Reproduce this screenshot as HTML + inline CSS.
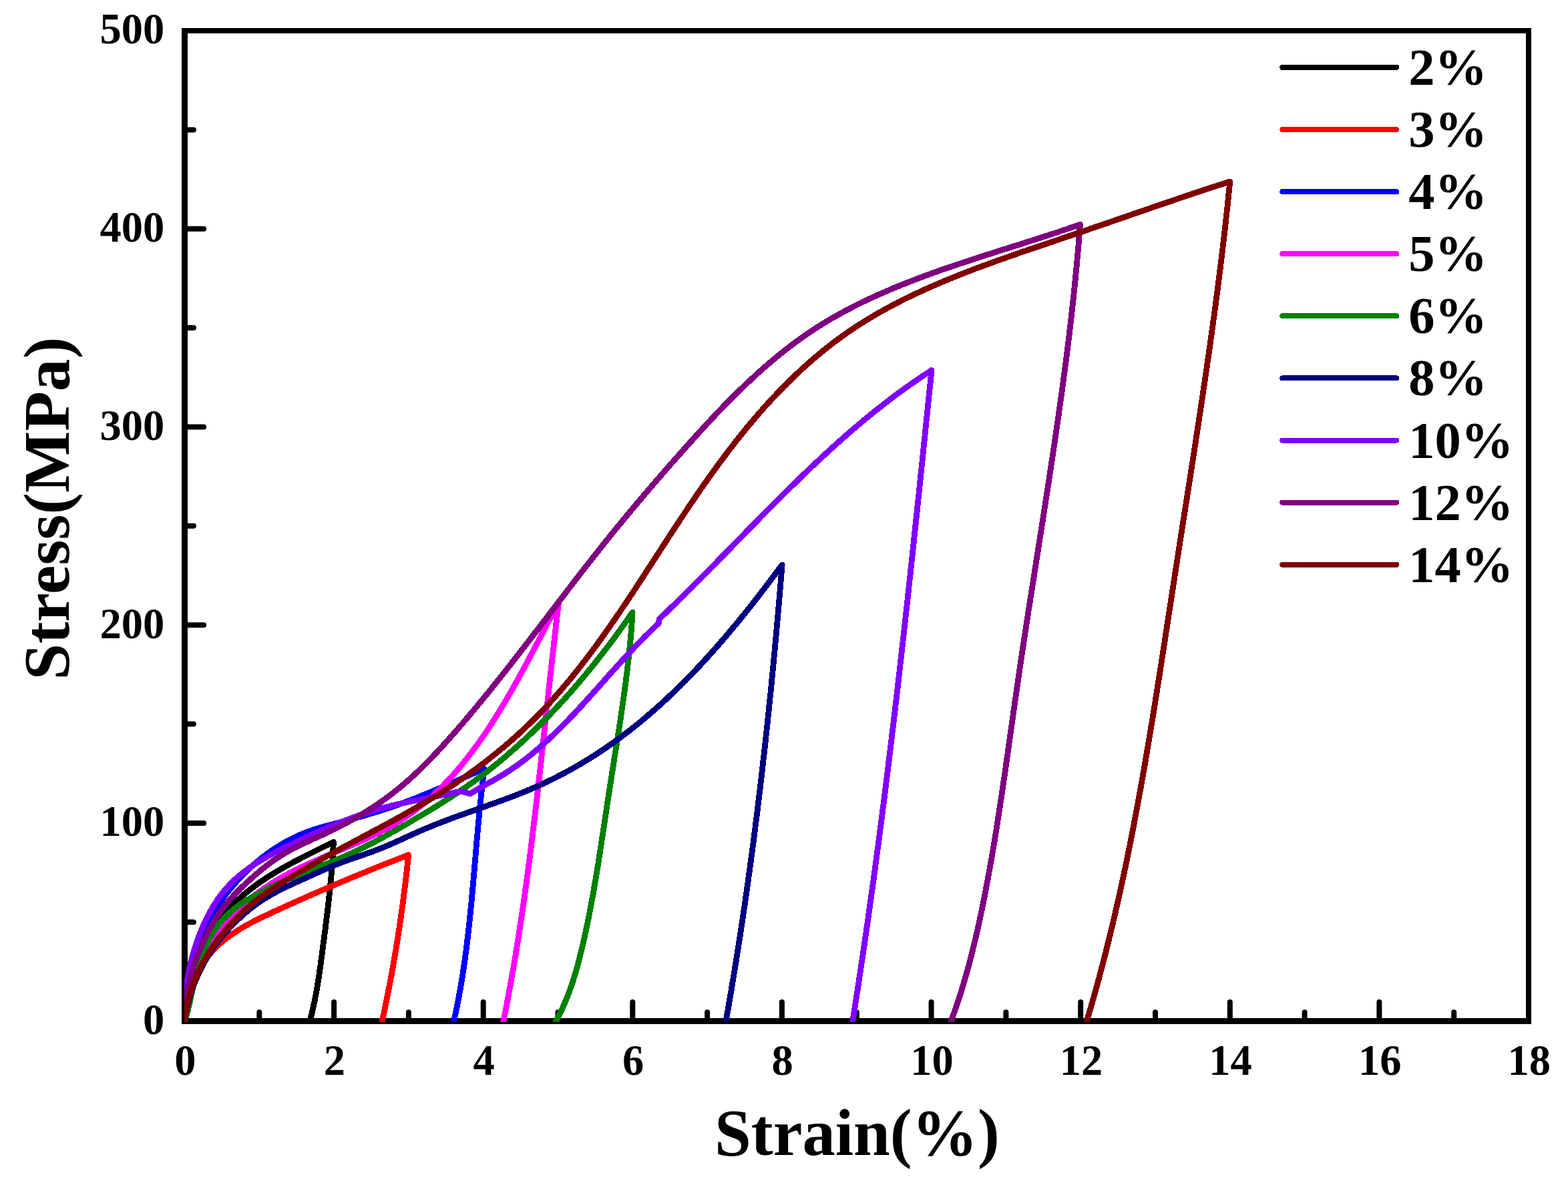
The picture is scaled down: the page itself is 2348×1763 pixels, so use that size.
<!DOCTYPE html>
<html lang="en"><head><meta charset="utf-8"><title>Stress-Strain curves</title>
<style>html,body{margin:0;padding:0;background:#fff;}body{width:2348px;height:1763px;overflow:hidden;}svg{display:block;}text{font-family:"Liberation Serif","Times New Roman",serif;font-weight:bold;fill:#000;}.tk{font-size:64.5px;}.lg{font-size:78.5px;}.ti{font-size:98.5px;}.c{fill:none;stroke-width:8.8;stroke-linejoin:round;stroke-linecap:round;shape-rendering:crispEdges;}.ax{fill:none;stroke:#000;stroke-linecap:round;stroke-linejoin:round;}</style></head><body>
<svg width="2348" height="1763" viewBox="0 0 2348 1763">
<rect width="2348" height="1763" fill="#fff"/>
<g class="ax" stroke-width="8">
<path d="M388.3,1529.6V1516.2M500.1,1529.6V1501.0M611.9,1529.6V1516.2M723.7,1529.6V1501.0M835.5,1529.6V1516.2M947.3,1529.6V1501.0M1059.1,1529.6V1516.2M1170.9,1529.6V1501.0M1282.8,1529.6V1516.2M1394.6,1529.6V1501.0M1506.4,1529.6V1516.2M1618.2,1529.6V1501.0M1730.0,1529.6V1516.2M1841.8,1529.6V1501.0M1953.6,1529.6V1516.2M2065.4,1529.6V1501.0M2177.2,1529.6V1516.2M276.5,1381.2H289.9M276.5,1232.9H305.1M276.5,1084.5H289.9M276.5,936.2H305.1M276.5,787.8H289.9M276.5,639.4H305.1M276.5,491.1H289.9M276.5,342.7H305.1M276.5,194.4H289.9"/>
</g>
<g fill="#000" shape-rendering="crispEdges">
<rect x="272" y="42" width="9" height="1492"/>
<rect x="2285" y="42" width="8" height="1492"/>
<rect x="272" y="42" width="2021" height="8"/>
<rect x="272" y="1525" width="2021" height="9"/>
</g>
<defs><clipPath id="plot"><rect x="276.0" y="46.0" width="2013.0" height="1484.8"/></clipPath></defs>
<g class="c" clip-path="url(#plot)">
<path stroke="#000000" d="M276.5,1530.0 L276.9,1526.9 L277.3,1523.8 L277.7,1520.8 L278.1,1517.7 L278.5,1514.6 L278.9,1511.6 L279.4,1508.5 L279.8,1505.5 L280.3,1502.4 L280.8,1499.4 L281.3,1496.4 L281.8,1493.4 L282.3,1490.4 L282.9,1487.4 L283.5,1484.4 L284.1,1481.4 L284.7,1478.4 L285.4,1475.5 L286.0,1472.5 L286.7,1469.6 L287.5,1466.6 L288.2,1463.7 L289.0,1460.8 L289.8,1457.9 L290.6,1455.0 L291.5,1452.2 L292.4,1449.3 L293.3,1446.4 L294.2,1443.6 L295.2,1440.8 L296.3,1438.0 L297.3,1435.2 L298.4,1432.4 L299.5,1429.7 L300.7,1426.9 L301.9,1424.2 L303.1,1421.5 L304.4,1418.8 L305.7,1416.1 L307.0,1413.4 L308.4,1410.8 L309.8,1408.1 L311.2,1405.5 L312.7,1402.9 L314.2,1400.4 L315.7,1397.8 L317.2,1395.3 L318.8,1392.7 L320.5,1390.2 L322.1,1387.8 L323.8,1385.3 L325.5,1382.9 L327.3,1380.5 L329.1,1378.1 L330.9,1375.7 L332.7,1373.3 L334.6,1371.0 L336.5,1368.7 L338.4,1366.4 L340.4,1364.2 L342.4,1361.9 L344.4,1359.7 L346.5,1357.5 L348.6,1355.4 L350.7,1353.2 L352.8,1351.1 L355.0,1349.0 L357.2,1347.0 L359.4,1344.9 L361.7,1342.9 L364.0,1340.9 L366.3,1339.0 L368.6,1337.0 L371.0,1335.1 L373.4,1333.2 L375.8,1331.4 L378.2,1329.5 L380.6,1327.7 L383.1,1325.9 L385.6,1324.1 L388.1,1322.3 L390.6,1320.6 L393.2,1318.8 L395.7,1317.1 L398.3,1315.5 L400.9,1313.8 L403.5,1312.1 L406.1,1310.5 L408.7,1308.9 L411.3,1307.3 L414.0,1305.7 L416.6,1304.1 L419.3,1302.6 L422.0,1301.0 L424.6,1299.5 L427.3,1298.0 L430.0,1296.5 L432.7,1295.0 L435.4,1293.6 L438.1,1292.1 L440.8,1290.7 L443.5,1289.2 L446.2,1287.8 L448.9,1286.4 L451.6,1285.0 L454.3,1283.6 L457.0,1282.2 L459.7,1280.9 L462.4,1279.5 L465.1,1278.2 L467.8,1276.8 L470.5,1275.5 L473.2,1274.2 L475.9,1272.8 L478.5,1271.5 L481.2,1270.2 L483.8,1268.9 L486.4,1267.6 L489.1,1266.3 L491.7,1265.0 L494.3,1263.8 L496.8,1262.5 L499.4,1261.2 L499.3,1264.2 L499.1,1267.2 L499.0,1270.2 L498.8,1273.2 L498.7,1276.2 L498.5,1279.2 L498.3,1282.3 L498.1,1285.3 L497.9,1288.3 L497.7,1291.3 L497.5,1294.3 L497.2,1297.3 L497.0,1300.3 L496.7,1303.3 L496.5,1306.3 L496.2,1309.4 L496.0,1312.4 L495.7,1315.4 L495.4,1318.4 L495.1,1321.4 L494.8,1324.4 L494.5,1327.4 L494.2,1330.5 L493.9,1333.5 L493.6,1336.5 L493.3,1339.5 L492.9,1342.5 L492.6,1345.5 L492.3,1348.5 L491.9,1351.6 L491.6,1354.6 L491.2,1357.6 L490.9,1360.6 L490.5,1363.6 L490.2,1366.6 L489.8,1369.6 L489.4,1372.6 L489.0,1375.7 L488.7,1378.7 L488.3,1381.7 L487.9,1384.7 L487.5,1387.7 L487.2,1390.7 L486.8,1393.7 L486.4,1396.7 L486.0,1399.7 L485.6,1402.7 L485.2,1405.7 L484.8,1408.7 L484.4,1411.7 L484.0,1414.7 L483.6,1417.7 L483.3,1420.7 L482.9,1423.7 L482.5,1426.7 L482.1,1429.7 L481.7,1432.7 L481.3,1435.6 L480.9,1438.6 L480.5,1441.6 L480.1,1444.6 L479.7,1447.6 L479.2,1450.6 L478.8,1453.5 L478.4,1456.5 L478.0,1459.5 L477.5,1462.5 L477.1,1465.4 L476.6,1468.4 L476.1,1471.4 L475.7,1474.3 L475.2,1477.3 L474.7,1480.2 L474.1,1483.2 L473.6,1486.2 L473.1,1489.1 L472.5,1492.1 L471.9,1495.0 L471.4,1497.9 L470.8,1500.9 L470.1,1503.8 L469.5,1506.8 L468.9,1509.7 L468.2,1512.6 L467.5,1515.6 L466.8,1518.5 L466.1,1521.4 L465.3,1524.3 L464.5,1527.3 L463.8,1530.2 L462.9,1533.1 L462.1,1536.0"/>
<path stroke="#FF0000" d="M276.5,1530.0 L276.9,1526.9 L277.2,1523.9 L277.6,1520.8 L278.1,1517.8 L278.5,1514.7 L279.0,1511.7 L279.6,1508.6 L280.1,1505.6 L280.7,1502.6 L281.4,1499.6 L282.0,1496.6 L282.7,1493.6 L283.5,1490.7 L284.3,1487.8 L285.1,1484.8 L286.0,1481.9 L286.9,1479.1 L287.9,1476.2 L288.9,1473.4 L289.9,1470.6 L291.0,1467.8 L292.2,1465.1 L293.4,1462.3 L294.6,1459.6 L295.9,1457.0 L297.3,1454.3 L298.6,1451.7 L300.1,1449.2 L301.6,1446.6 L303.1,1444.1 L304.7,1441.6 L306.4,1439.2 L308.1,1436.8 L309.8,1434.4 L311.6,1432.1 L313.5,1429.8 L315.4,1427.6 L317.3,1425.3 L319.3,1423.2 L321.4,1421.0 L323.4,1418.9 L325.6,1416.9 L327.7,1414.9 L329.9,1412.9 L332.2,1411.0 L334.4,1409.1 L336.7,1407.2 L339.1,1405.4 L341.5,1403.6 L343.9,1401.8 L346.3,1400.1 L348.8,1398.4 L351.3,1396.8 L353.8,1395.1 L356.3,1393.5 L358.9,1391.9 L361.5,1390.4 L364.1,1388.8 L366.7,1387.3 L369.4,1385.8 L372.0,1384.4 L374.7,1382.9 L377.4,1381.5 L380.1,1380.1 L382.8,1378.7 L385.5,1377.3 L388.3,1376.0 L391.0,1374.6 L393.8,1373.3 L396.5,1372.0 L399.3,1370.7 L402.1,1369.4 L404.8,1368.1 L407.6,1366.8 L410.3,1365.5 L413.1,1364.2 L415.9,1363.0 L418.6,1361.7 L421.4,1360.5 L424.1,1359.2 L426.8,1358.0 L429.6,1356.7 L432.3,1355.5 L435.0,1354.3 L437.8,1353.1 L440.5,1351.8 L443.2,1350.6 L445.9,1349.4 L448.6,1348.2 L451.4,1347.0 L454.1,1345.8 L456.8,1344.6 L459.5,1343.4 L462.2,1342.2 L464.9,1341.0 L467.6,1339.8 L470.3,1338.6 L473.0,1337.5 L475.7,1336.3 L478.4,1335.1 L481.1,1333.9 L483.8,1332.8 L486.5,1331.6 L489.2,1330.4 L491.9,1329.3 L494.6,1328.1 L497.3,1327.0 L500.0,1325.8 L502.7,1324.7 L505.5,1323.5 L508.2,1322.4 L510.9,1321.2 L513.6,1320.1 L516.3,1318.9 L519.0,1317.8 L521.8,1316.7 L524.5,1315.5 L527.2,1314.4 L530.0,1313.2 L532.7,1312.1 L535.4,1311.0 L538.2,1309.9 L540.9,1308.7 L543.7,1307.6 L546.4,1306.5 L549.2,1305.3 L552.0,1304.2 L554.8,1303.1 L557.5,1302.0 L560.3,1300.8 L563.1,1299.7 L565.9,1298.6 L568.7,1297.5 L571.5,1296.3 L574.3,1295.2 L577.2,1294.1 L580.0,1293.0 L582.8,1291.9 L585.7,1290.7 L588.5,1289.6 L591.4,1288.5 L594.2,1287.4 L597.1,1286.2 L600.0,1285.1 L602.9,1284.0 L605.8,1282.9 L608.7,1281.7 L611.6,1280.6 L611.3,1283.6 L611.0,1286.6 L610.7,1289.6 L610.4,1292.6 L610.1,1295.6 L609.7,1298.6 L609.4,1301.5 L609.1,1304.5 L608.7,1307.5 L608.4,1310.5 L608.1,1313.5 L607.7,1316.5 L607.4,1319.5 L607.0,1322.5 L606.7,1325.5 L606.3,1328.4 L605.9,1331.4 L605.6,1334.4 L605.2,1337.4 L604.8,1340.4 L604.4,1343.4 L604.0,1346.4 L603.6,1349.3 L603.3,1352.3 L602.9,1355.3 L602.5,1358.3 L602.0,1361.3 L601.6,1364.3 L601.2,1367.2 L600.8,1370.2 L600.4,1373.2 L600.0,1376.2 L599.5,1379.2 L599.1,1382.1 L598.6,1385.1 L598.2,1388.1 L597.8,1391.1 L597.3,1394.0 L596.8,1397.0 L596.4,1400.0 L595.9,1403.0 L595.5,1405.9 L595.0,1408.9 L594.5,1411.9 L594.0,1414.9 L593.5,1417.8 L593.1,1420.8 L592.6,1423.8 L592.1,1426.7 L591.6,1429.7 L591.1,1432.7 L590.6,1435.6 L590.0,1438.6 L589.5,1441.6 L589.0,1444.5 L588.5,1447.5 L588.0,1450.5 L587.4,1453.4 L586.9,1456.4 L586.3,1459.3 L585.8,1462.3 L585.2,1465.3 L584.7,1468.2 L584.1,1471.2 L583.6,1474.1 L583.0,1477.1 L582.4,1480.0 L581.9,1483.0 L581.3,1485.9 L580.7,1488.9 L580.1,1491.8 L579.5,1494.8 L578.9,1497.7 L578.3,1500.7 L577.7,1503.6 L577.1,1506.6 L576.5,1509.5 L575.9,1512.5 L575.3,1515.4 L574.6,1518.4 L574.0,1521.3 L573.4,1524.2 L572.7,1527.2 L572.1,1530.1 L571.4,1533.1 L570.8,1536.0"/>
<path stroke="#0000FF" d="M276.5,1530.0 L276.4,1527.0 L276.3,1523.9 L276.3,1520.9 L276.3,1517.9 L276.3,1514.8 L276.4,1511.8 L276.5,1508.8 L276.6,1505.8 L276.8,1502.8 L277.0,1499.7 L277.2,1496.7 L277.5,1493.7 L277.8,1490.8 L278.1,1487.8 L278.4,1484.8 L278.8,1481.8 L279.2,1478.8 L279.7,1475.9 L280.1,1472.9 L280.6,1470.0 L281.2,1467.0 L281.7,1464.1 L282.3,1461.1 L283.0,1458.2 L283.6,1455.3 L284.3,1452.4 L285.0,1449.5 L285.8,1446.6 L286.5,1443.7 L287.3,1440.8 L288.2,1438.0 L289.0,1435.1 L289.9,1432.2 L290.8,1429.4 L291.8,1426.6 L292.8,1423.7 L293.8,1420.9 L294.8,1418.1 L295.9,1415.3 L297.0,1412.6 L298.1,1409.8 L299.2,1407.0 L300.4,1404.3 L301.6,1401.5 L302.8,1398.8 L304.1,1396.1 L305.3,1393.4 L306.7,1390.7 L308.0,1388.0 L309.3,1385.4 L310.7,1382.7 L312.1,1380.1 L313.6,1377.5 L315.1,1374.9 L316.5,1372.3 L318.1,1369.7 L319.6,1367.1 L321.2,1364.5 L322.8,1362.0 L324.4,1359.5 L326.0,1357.0 L327.7,1354.5 L329.4,1352.0 L331.1,1349.5 L332.9,1347.1 L334.6,1344.6 L336.4,1342.2 L338.2,1339.8 L340.1,1337.4 L342.0,1335.1 L343.8,1332.7 L345.8,1330.4 L347.7,1328.1 L349.7,1325.8 L351.6,1323.5 L353.6,1321.2 L355.7,1319.0 L357.7,1316.8 L359.8,1314.6 L361.9,1312.4 L364.0,1310.2 L366.2,1308.0 L368.3,1305.9 L370.5,1303.8 L372.7,1301.7 L375.0,1299.7 L377.2,1297.6 L379.5,1295.6 L381.8,1293.6 L384.1,1291.6 L386.4,1289.7 L388.8,1287.7 L391.1,1285.8 L393.5,1283.9 L395.9,1282.1 L398.3,1280.3 L400.8,1278.5 L403.2,1276.7 L405.7,1275.0 L408.2,1273.3 L410.7,1271.6 L413.2,1269.9 L415.8,1268.3 L418.3,1266.7 L420.9,1265.1 L423.5,1263.6 L426.0,1262.1 L428.7,1260.6 L431.3,1259.2 L433.9,1257.8 L436.6,1256.5 L439.2,1255.1 L441.9,1253.8 L444.6,1252.6 L447.3,1251.4 L450.0,1250.2 L452.7,1249.0 L455.4,1247.9 L458.1,1246.8 L460.9,1245.8 L463.6,1244.8 L466.4,1243.9 L469.2,1242.9 L472.0,1242.0 L474.8,1241.2 L477.6,1240.3 L480.4,1239.5 L483.2,1238.7 L486.0,1237.9 L488.8,1237.1 L491.6,1236.4 L494.5,1235.6 L497.3,1234.9 L500.2,1234.1 L503.0,1233.4 L505.9,1232.6 L508.7,1231.8 L511.6,1231.1 L514.5,1230.3 L517.3,1229.5 L520.2,1228.8 L523.1,1228.0 L526.0,1227.2 L528.8,1226.4 L531.7,1225.6 L534.6,1224.8 L537.5,1223.9 L540.4,1223.1 L543.3,1222.3 L546.2,1221.4 L549.0,1220.6 L551.9,1219.7 L554.8,1218.8 L557.7,1218.0 L560.6,1217.1 L563.5,1216.2 L566.4,1215.3 L569.2,1214.4 L572.1,1213.5 L575.0,1212.5 L577.9,1211.6 L580.8,1210.6 L583.6,1209.7 L586.5,1208.7 L589.4,1207.7 L592.2,1206.7 L595.1,1205.7 L597.9,1204.7 L600.8,1203.7 L603.6,1202.6 L606.5,1201.6 L609.3,1200.5 L612.1,1199.5 L614.9,1198.4 L617.8,1197.3 L620.6,1196.2 L623.4,1195.1 L626.2,1194.0 L629.0,1192.9 L631.8,1191.7 L634.6,1190.6 L637.4,1189.4 L640.2,1188.3 L642.9,1187.1 L645.7,1186.0 L648.5,1184.8 L651.3,1183.6 L654.0,1182.4 L656.8,1181.3 L659.6,1180.1 L662.3,1178.9 L665.1,1177.7 L667.8,1176.5 L670.6,1175.3 L673.4,1174.1 L676.1,1172.9 L678.8,1171.7 L681.6,1170.5 L684.3,1169.3 L687.1,1168.1 L689.8,1166.9 L692.5,1165.7 L695.3,1164.5 L698.0,1163.3 L700.7,1162.1 L703.4,1160.9 L706.2,1159.7 L708.9,1158.5 L711.6,1157.4 L714.3,1156.2 L717.1,1155.0 L719.8,1153.8 L722.5,1152.7 L725.2,1151.5 L724.8,1154.5 L724.4,1157.5 L724.1,1160.4 L723.7,1163.4 L723.3,1166.4 L723.0,1169.4 L722.6,1172.4 L722.3,1175.4 L721.9,1178.3 L721.6,1181.3 L721.3,1184.3 L720.9,1187.3 L720.6,1190.3 L720.3,1193.3 L720.0,1196.3 L719.7,1199.3 L719.4,1202.2 L719.0,1205.2 L718.7,1208.2 L718.4,1211.2 L718.1,1214.2 L717.9,1217.2 L717.6,1220.2 L717.3,1223.2 L717.0,1226.2 L716.7,1229.2 L716.4,1232.1 L716.2,1235.1 L715.9,1238.1 L715.6,1241.1 L715.3,1244.1 L715.1,1247.1 L714.8,1250.1 L714.5,1253.1 L714.3,1256.1 L714.0,1259.1 L713.8,1262.1 L713.5,1265.1 L713.2,1268.1 L713.0,1271.1 L712.7,1274.0 L712.5,1277.0 L712.2,1280.0 L712.0,1283.0 L711.7,1286.0 L711.4,1289.0 L711.2,1292.0 L710.9,1295.0 L710.7,1298.0 L710.4,1301.0 L710.2,1304.0 L709.9,1307.0 L709.6,1310.0 L709.4,1313.0 L709.1,1316.0 L708.9,1318.9 L708.6,1321.9 L708.3,1324.9 L708.1,1327.9 L707.8,1330.9 L707.5,1333.9 L707.3,1336.9 L707.0,1339.9 L706.7,1342.9 L706.4,1345.9 L706.2,1348.9 L705.9,1351.8 L705.6,1354.8 L705.3,1357.8 L705.0,1360.8 L704.7,1363.8 L704.4,1366.8 L704.1,1369.8 L703.8,1372.8 L703.5,1375.8 L703.2,1378.7 L702.9,1381.7 L702.6,1384.7 L702.2,1387.7 L701.9,1390.7 L701.6,1393.7 L701.2,1396.6 L700.9,1399.6 L700.5,1402.6 L700.2,1405.6 L699.8,1408.6 L699.5,1411.6 L699.1,1414.5 L698.7,1417.5 L698.4,1420.5 L698.0,1423.5 L697.6,1426.4 L697.2,1429.4 L696.8,1432.4 L696.4,1435.4 L696.0,1438.3 L695.6,1441.3 L695.1,1444.3 L694.7,1447.3 L694.3,1450.2 L693.8,1453.2 L693.4,1456.2 L692.9,1459.1 L692.5,1462.1 L692.0,1465.1 L691.5,1468.0 L691.0,1471.0 L690.5,1474.0 L690.0,1476.9 L689.5,1479.9 L689.0,1482.9 L688.5,1485.8 L687.9,1488.8 L687.4,1491.7 L686.8,1494.7 L686.3,1497.7 L685.7,1500.6 L685.1,1503.6 L684.5,1506.5 L683.9,1509.5 L683.3,1512.4 L682.7,1515.4 L682.1,1518.3 L681.4,1521.3 L680.8,1524.2 L680.1,1527.2 L679.5,1530.1 L678.8,1533.1 L678.1,1536.0"/>
<path stroke="#FF00FF" d="M276.5,1530.0 L276.7,1526.8 L277.0,1523.7 L277.2,1520.5 L277.6,1517.4 L277.9,1514.3 L278.3,1511.2 L278.8,1508.1 L279.3,1505.1 L279.8,1502.0 L280.4,1499.0 L281.0,1496.0 L281.6,1493.0 L282.3,1490.0 L283.0,1487.0 L283.7,1484.1 L284.5,1481.1 L285.3,1478.2 L286.2,1475.3 L287.0,1472.4 L288.0,1469.5 L288.9,1466.7 L289.9,1463.9 L290.9,1461.0 L292.0,1458.2 L293.1,1455.4 L294.2,1452.7 L295.4,1449.9 L296.6,1447.2 L297.8,1444.4 L299.0,1441.7 L300.3,1439.1 L301.6,1436.4 L303.0,1433.7 L304.4,1431.1 L305.8,1428.5 L307.2,1425.9 L308.7,1423.3 L310.2,1420.7 L311.7,1418.2 L313.2,1415.7 L314.8,1413.2 L316.4,1410.7 L318.1,1408.2 L319.8,1405.7 L321.4,1403.3 L323.2,1400.9 L324.9,1398.5 L326.7,1396.1 L328.5,1393.8 L330.3,1391.4 L332.2,1389.1 L334.1,1386.8 L336.0,1384.5 L337.9,1382.3 L339.8,1380.0 L341.8,1377.8 L343.8,1375.6 L345.8,1373.4 L347.9,1371.2 L350.0,1369.1 L352.0,1367.0 L354.2,1364.9 L356.3,1362.8 L358.5,1360.7 L360.6,1358.7 L362.8,1356.7 L365.1,1354.7 L367.3,1352.7 L369.6,1350.7 L371.8,1348.8 L374.1,1346.9 L376.5,1345.0 L378.8,1343.1 L381.2,1341.3 L383.5,1339.4 L385.9,1337.6 L388.3,1335.8 L390.8,1334.1 L393.2,1332.3 L395.7,1330.6 L398.2,1328.9 L400.7,1327.2 L403.2,1325.6 L405.7,1323.9 L408.2,1322.3 L410.8,1320.7 L413.4,1319.2 L416.0,1317.6 L418.6,1316.1 L421.2,1314.6 L423.8,1313.1 L426.4,1311.7 L429.1,1310.2 L431.8,1308.8 L434.4,1307.4 L437.1,1306.0 L439.8,1304.6 L442.5,1303.3 L445.2,1301.9 L447.9,1300.6 L450.7,1299.3 L453.4,1297.9 L456.2,1296.7 L458.9,1295.4 L461.7,1294.1 L464.4,1292.8 L467.2,1291.6 L470.0,1290.3 L472.8,1289.1 L475.6,1287.9 L478.4,1286.7 L481.1,1285.4 L483.9,1284.2 L486.7,1283.0 L489.5,1281.8 L492.3,1280.6 L495.1,1279.4 L498.0,1278.3 L500.8,1277.1 L503.6,1275.9 L506.4,1274.7 L509.2,1273.5 L512.0,1272.3 L514.8,1271.1 L517.6,1269.9 L520.4,1268.7 L523.2,1267.5 L525.9,1266.3 L528.7,1265.1 L531.5,1263.9 L534.3,1262.7 L537.0,1261.5 L539.8,1260.2 L542.6,1259.0 L545.3,1257.8 L548.1,1256.5 L550.8,1255.2 L553.5,1253.9 L556.2,1252.7 L558.9,1251.4 L561.6,1250.0 L564.3,1248.7 L567.0,1247.4 L569.7,1246.0 L572.3,1244.6 L575.0,1243.3 L577.6,1241.9 L580.2,1240.4 L582.8,1239.0 L585.4,1237.5 L588.0,1236.1 L590.5,1234.6 L593.1,1233.0 L595.6,1231.5 L598.1,1230.0 L600.6,1228.4 L603.1,1226.8 L605.6,1225.1 L608.0,1223.5 L610.5,1221.8 L612.9,1220.1 L615.3,1218.4 L617.7,1216.7 L620.0,1214.9 L622.4,1213.2 L624.7,1211.4 L627.1,1209.6 L629.4,1207.7 L631.7,1205.9 L633.9,1204.0 L636.2,1202.1 L638.5,1200.2 L640.7,1198.3 L642.9,1196.3 L645.1,1194.4 L647.3,1192.4 L649.5,1190.4 L651.7,1188.4 L653.8,1186.4 L655.9,1184.3 L658.1,1182.2 L660.2,1180.1 L662.3,1178.0 L664.4,1175.9 L666.4,1173.8 L668.5,1171.7 L670.5,1169.5 L672.6,1167.3 L674.6,1165.1 L676.6,1162.9 L678.6,1160.7 L680.6,1158.5 L682.5,1156.2 L684.5,1153.9 L686.4,1151.7 L688.4,1149.4 L690.3,1147.1 L692.2,1144.7 L694.1,1142.4 L696.0,1140.1 L697.9,1137.7 L699.7,1135.4 L701.6,1133.0 L703.4,1130.6 L705.3,1128.2 L707.1,1125.8 L708.9,1123.3 L710.7,1120.9 L712.5,1118.5 L714.3,1116.0 L716.1,1113.6 L717.8,1111.1 L719.6,1108.6 L721.3,1106.1 L723.0,1103.6 L724.8,1101.1 L726.5,1098.6 L728.2,1096.0 L729.9,1093.5 L731.6,1091.0 L733.2,1088.4 L734.9,1085.9 L736.6,1083.3 L738.2,1080.7 L739.9,1078.1 L741.5,1075.6 L743.1,1073.0 L744.7,1070.4 L746.3,1067.8 L747.9,1065.1 L749.5,1062.5 L751.1,1059.9 L752.7,1057.3 L754.3,1054.7 L755.8,1052.0 L757.4,1049.4 L758.9,1046.7 L760.5,1044.1 L762.0,1041.4 L763.6,1038.8 L765.1,1036.1 L766.6,1033.5 L768.1,1030.8 L769.6,1028.1 L771.1,1025.5 L772.6,1022.8 L774.1,1020.1 L775.6,1017.5 L777.0,1014.8 L778.5,1012.1 L780.0,1009.4 L781.4,1006.8 L782.9,1004.1 L784.3,1001.4 L785.8,998.7 L787.2,996.1 L788.6,993.4 L790.1,990.7 L791.5,988.0 L792.9,985.4 L794.3,982.7 L795.7,980.0 L797.1,977.4 L798.5,974.7 L799.9,972.0 L801.3,969.4 L802.7,966.7 L804.1,964.0 L805.5,961.4 L806.9,958.7 L808.3,956.1 L809.6,953.5 L811.0,950.8 L812.4,948.2 L813.7,945.6 L815.1,942.9 L816.5,940.3 L817.8,937.7 L819.2,935.1 L820.5,932.5 L821.9,929.9 L823.3,927.3 L824.6,924.7 L826.0,922.1 L827.3,919.6 L828.6,917.0 L830.0,914.5 L831.3,911.9 L832.7,909.4 L834.0,906.8 L835.4,904.3 L836.7,901.8 L836.3,904.8 L836.0,907.8 L835.6,910.7 L835.3,913.7 L834.9,916.7 L834.6,919.7 L834.2,922.7 L833.9,925.7 L833.5,928.6 L833.2,931.6 L832.8,934.6 L832.5,937.6 L832.1,940.6 L831.8,943.6 L831.5,946.5 L831.1,949.5 L830.8,952.5 L830.4,955.5 L830.1,958.5 L829.8,961.5 L829.4,964.5 L829.1,967.4 L828.8,970.4 L828.4,973.4 L828.1,976.4 L827.8,979.4 L827.4,982.4 L827.1,985.3 L826.8,988.3 L826.4,991.3 L826.1,994.3 L825.8,997.3 L825.4,1000.3 L825.1,1003.3 L824.8,1006.3 L824.5,1009.2 L824.1,1012.2 L823.8,1015.2 L823.5,1018.2 L823.1,1021.2 L822.8,1024.2 L822.5,1027.2 L822.2,1030.2 L821.8,1033.1 L821.5,1036.1 L821.2,1039.1 L820.9,1042.1 L820.6,1045.1 L820.2,1048.1 L819.9,1051.1 L819.6,1054.1 L819.3,1057.0 L818.9,1060.0 L818.6,1063.0 L818.3,1066.0 L818.0,1069.0 L817.6,1072.0 L817.3,1075.0 L817.0,1078.0 L816.7,1080.9 L816.4,1083.9 L816.0,1086.9 L815.7,1089.9 L815.4,1092.9 L815.1,1095.9 L814.7,1098.9 L814.4,1101.9 L814.1,1104.9 L813.8,1107.8 L813.4,1110.8 L813.1,1113.8 L812.8,1116.8 L812.5,1119.8 L812.1,1122.8 L811.8,1125.8 L811.5,1128.8 L811.1,1131.7 L810.8,1134.7 L810.5,1137.7 L810.2,1140.7 L809.8,1143.7 L809.5,1146.7 L809.2,1149.7 L808.8,1152.7 L808.5,1155.6 L808.2,1158.6 L807.8,1161.6 L807.5,1164.6 L807.2,1167.6 L806.8,1170.6 L806.5,1173.6 L806.2,1176.5 L805.8,1179.5 L805.5,1182.5 L805.1,1185.5 L804.8,1188.5 L804.5,1191.5 L804.1,1194.5 L803.8,1197.5 L803.4,1200.4 L803.1,1203.4 L802.7,1206.4 L802.4,1209.4 L802.0,1212.4 L801.7,1215.4 L801.3,1218.3 L801.0,1221.3 L800.6,1224.3 L800.3,1227.3 L799.9,1230.3 L799.6,1233.3 L799.2,1236.2 L798.8,1239.2 L798.5,1242.2 L798.1,1245.2 L797.8,1248.2 L797.4,1251.2 L797.0,1254.1 L796.7,1257.1 L796.3,1260.1 L795.9,1263.1 L795.5,1266.1 L795.2,1269.1 L794.8,1272.0 L794.4,1275.0 L794.0,1278.0 L793.7,1281.0 L793.3,1284.0 L792.9,1286.9 L792.5,1289.9 L792.1,1292.9 L791.7,1295.9 L791.4,1298.9 L791.0,1301.8 L790.6,1304.8 L790.2,1307.8 L789.8,1310.8 L789.4,1313.7 L789.0,1316.7 L788.6,1319.7 L788.2,1322.7 L787.8,1325.7 L787.4,1328.6 L786.9,1331.6 L786.5,1334.6 L786.1,1337.6 L785.7,1340.5 L785.3,1343.5 L784.9,1346.5 L784.4,1349.5 L784.0,1352.4 L783.6,1355.4 L783.2,1358.4 L782.7,1361.3 L782.3,1364.3 L781.9,1367.3 L781.4,1370.3 L781.0,1373.2 L780.5,1376.2 L780.1,1379.2 L779.6,1382.1 L779.2,1385.1 L778.7,1388.1 L778.3,1391.1 L777.8,1394.0 L777.4,1397.0 L776.9,1400.0 L776.5,1402.9 L776.0,1405.9 L775.5,1408.9 L775.0,1411.8 L774.6,1414.8 L774.1,1417.8 L773.6,1420.7 L773.1,1423.7 L772.6,1426.6 L772.2,1429.6 L771.7,1432.6 L771.2,1435.5 L770.7,1438.5 L770.2,1441.5 L769.7,1444.4 L769.2,1447.4 L768.7,1450.3 L768.2,1453.3 L767.6,1456.3 L767.1,1459.2 L766.6,1462.2 L766.1,1465.1 L765.6,1468.1 L765.0,1471.1 L764.5,1474.0 L764.0,1477.0 L763.4,1479.9 L762.9,1482.9 L762.3,1485.8 L761.8,1488.8 L761.2,1491.7 L760.7,1494.7 L760.1,1497.7 L759.6,1500.6 L759.0,1503.6 L758.4,1506.5 L757.9,1509.5 L757.3,1512.4 L756.7,1515.4 L756.2,1518.3 L755.6,1521.3 L755.0,1524.2 L754.4,1527.2 L753.8,1530.1 L753.2,1533.1 L752.6,1536.0"/>
<path stroke="#008000" d="M276.5,1530.0 L277.4,1527.2 L278.3,1524.3 L279.1,1521.5 L279.9,1518.6 L280.7,1515.7 L281.4,1512.8 L282.1,1509.9 L282.8,1507.0 L283.5,1504.1 L284.1,1501.1 L284.8,1498.2 L285.4,1495.2 L286.0,1492.3 L286.6,1489.3 L287.3,1486.4 L287.9,1483.4 L288.5,1480.5 L289.1,1477.5 L289.8,1474.6 L290.4,1471.6 L291.1,1468.7 L291.8,1465.7 L292.5,1462.8 L293.2,1459.8 L294.0,1456.9 L294.8,1454.0 L295.6,1451.1 L296.4,1448.2 L297.3,1445.3 L298.2,1442.4 L299.1,1439.6 L300.1,1436.7 L301.1,1433.9 L302.1,1431.1 L303.2,1428.3 L304.3,1425.5 L305.4,1422.7 L306.6,1420.0 L307.8,1417.3 L309.1,1414.6 L310.4,1411.9 L311.8,1409.2 L313.2,1406.6 L314.6,1404.0 L316.1,1401.4 L317.6,1398.9 L319.2,1396.3 L320.9,1393.8 L322.6,1391.4 L324.3,1389.0 L326.1,1386.6 L327.9,1384.2 L329.8,1381.9 L331.8,1379.6 L333.8,1377.3 L335.8,1375.1 L337.9,1372.9 L340.0,1370.8 L342.2,1368.7 L344.4,1366.7 L346.7,1364.7 L348.9,1362.7 L351.2,1360.8 L353.6,1359.0 L356.0,1357.2 L358.4,1355.4 L360.8,1353.7 L363.3,1352.1 L365.8,1350.5 L368.3,1349.0 L370.9,1347.5 L373.4,1346.1 L376.0,1344.7 L378.6,1343.3 L381.2,1341.9 L383.9,1340.4 L386.5,1339.0 L389.2,1337.5 L391.8,1336.0 L394.5,1334.6 L397.2,1333.1 L399.9,1331.7 L402.6,1330.4 L405.3,1329.0 L408.0,1327.7 L410.8,1326.3 L413.5,1325.0 L416.2,1323.8 L419.0,1322.5 L421.7,1321.3 L424.5,1320.0 L427.2,1318.8 L430.0,1317.6 L432.7,1316.4 L435.5,1315.3 L438.3,1314.1 L441.0,1313.0 L443.8,1311.8 L446.6,1310.7 L449.4,1309.6 L452.2,1308.5 L454.9,1307.4 L457.7,1306.3 L460.5,1305.2 L463.3,1304.1 L466.1,1303.0 L468.9,1301.9 L471.7,1300.8 L474.4,1299.7 L477.2,1298.6 L480.0,1297.5 L482.8,1296.4 L485.6,1295.3 L488.4,1294.2 L491.2,1293.1 L493.9,1292.0 L496.7,1290.8 L499.5,1289.7 L502.3,1288.6 L505.0,1287.4 L507.8,1286.2 L510.6,1285.1 L513.3,1283.9 L516.1,1282.7 L518.9,1281.4 L521.6,1280.2 L524.3,1279.0 L527.1,1277.7 L529.8,1276.4 L532.6,1275.1 L535.3,1273.8 L538.0,1272.5 L540.7,1271.2 L543.4,1269.8 L546.1,1268.5 L548.9,1267.1 L551.6,1265.8 L554.2,1264.4 L556.9,1263.0 L559.6,1261.6 L562.3,1260.2 L565.0,1258.8 L567.7,1257.3 L570.3,1255.9 L573.0,1254.5 L575.7,1253.0 L578.3,1251.6 L581.0,1250.1 L583.6,1248.6 L586.3,1247.1 L588.9,1245.7 L591.5,1244.2 L594.2,1242.7 L596.8,1241.2 L599.4,1239.7 L602.0,1238.2 L604.6,1236.7 L607.2,1235.2 L609.9,1233.7 L612.4,1232.1 L615.0,1230.6 L617.6,1229.1 L620.2,1227.6 L622.8,1226.0 L625.4,1224.5 L627.9,1223.0 L630.5,1221.5 L633.1,1219.9 L635.6,1218.4 L638.2,1216.9 L640.7,1215.4 L643.2,1213.8 L645.8,1212.3 L648.3,1210.7 L650.8,1209.2 L653.3,1207.7 L655.9,1206.1 L658.4,1204.6 L660.9,1203.0 L663.4,1201.4 L665.9,1199.9 L668.3,1198.3 L670.8,1196.7 L673.3,1195.1 L675.8,1193.5 L678.3,1191.9 L680.7,1190.3 L683.2,1188.7 L685.6,1187.1 L688.1,1185.4 L690.5,1183.8 L692.9,1182.1 L695.4,1180.5 L697.8,1178.8 L700.2,1177.1 L702.6,1175.4 L705.1,1173.7 L707.5,1172.0 L709.9,1170.3 L712.2,1168.5 L714.6,1166.8 L717.0,1165.0 L719.4,1163.3 L721.8,1161.5 L724.1,1159.7 L726.5,1157.9 L728.9,1156.1 L731.2,1154.2 L733.5,1152.4 L735.9,1150.6 L738.2,1148.7 L740.5,1146.8 L742.9,1144.9 L745.2,1143.1 L747.5,1141.2 L749.8,1139.2 L752.1,1137.3 L754.4,1135.4 L756.7,1133.5 L759.0,1131.5 L761.2,1129.5 L763.5,1127.6 L765.8,1125.6 L768.0,1123.6 L770.3,1121.6 L772.5,1119.6 L774.8,1117.6 L777.0,1115.6 L779.2,1113.6 L781.5,1111.5 L783.7,1109.5 L785.9,1107.4 L788.1,1105.3 L790.3,1103.3 L792.5,1101.2 L794.7,1099.1 L796.9,1097.0 L799.1,1094.9 L801.2,1092.8 L803.4,1090.7 L805.5,1088.5 L807.7,1086.4 L809.8,1084.3 L812.0,1082.1 L814.1,1080.0 L816.2,1077.8 L818.4,1075.6 L820.5,1073.5 L822.6,1071.3 L824.7,1069.1 L826.8,1066.9 L828.9,1064.7 L831.0,1062.5 L833.0,1060.2 L835.1,1058.0 L837.2,1055.8 L839.2,1053.6 L841.3,1051.3 L843.3,1049.1 L845.4,1046.8 L847.4,1044.6 L849.4,1042.3 L851.5,1040.0 L853.5,1037.8 L855.5,1035.5 L857.5,1033.2 L859.5,1030.9 L861.5,1028.6 L863.4,1026.3 L865.4,1024.0 L867.4,1021.7 L869.3,1019.4 L871.3,1017.1 L873.2,1014.7 L875.2,1012.4 L877.1,1010.1 L879.0,1007.7 L881.0,1005.4 L882.9,1003.1 L884.8,1000.7 L886.7,998.4 L888.6,996.0 L890.5,993.7 L892.4,991.3 L894.2,988.9 L896.1,986.6 L898.0,984.2 L899.8,981.8 L901.7,979.5 L903.5,977.1 L905.3,974.7 L907.2,972.3 L909.0,969.9 L910.8,967.5 L912.6,965.1 L914.4,962.7 L916.2,960.4 L918.0,958.0 L919.7,955.6 L921.5,953.2 L923.3,950.8 L925.0,948.3 L926.8,945.9 L928.5,943.5 L930.3,941.1 L932.0,938.7 L933.7,936.3 L935.4,933.9 L937.1,931.5 L938.8,929.1 L940.5,926.7 L942.2,924.2 L943.9,921.8 L945.5,919.4 L947.2,917.0 L947.0,920.0 L946.8,922.9 L946.7,925.9 L946.5,928.9 L946.2,931.9 L946.0,934.8 L945.8,937.8 L945.6,940.8 L945.3,943.7 L945.1,946.7 L944.9,949.7 L944.6,952.7 L944.3,955.7 L944.1,958.6 L943.8,961.6 L943.5,964.6 L943.2,967.6 L942.9,970.6 L942.6,973.5 L942.3,976.5 L942.0,979.5 L941.7,982.5 L941.3,985.5 L941.0,988.5 L940.7,991.5 L940.3,994.4 L940.0,997.4 L939.6,1000.4 L939.3,1003.4 L938.9,1006.4 L938.5,1009.4 L938.2,1012.4 L937.8,1015.4 L937.4,1018.4 L937.0,1021.4 L936.6,1024.4 L936.2,1027.3 L935.8,1030.3 L935.4,1033.3 L935.0,1036.3 L934.6,1039.3 L934.2,1042.3 L933.8,1045.3 L933.4,1048.3 L932.9,1051.3 L932.5,1054.3 L932.1,1057.3 L931.6,1060.3 L931.2,1063.3 L930.8,1066.3 L930.3,1069.3 L929.9,1072.3 L929.4,1075.3 L929.0,1078.3 L928.5,1081.3 L928.1,1084.3 L927.6,1087.2 L927.2,1090.2 L926.7,1093.2 L926.2,1096.2 L925.8,1099.2 L925.3,1102.2 L924.9,1105.2 L924.4,1108.2 L923.9,1111.2 L923.4,1114.2 L923.0,1117.2 L922.5,1120.2 L922.0,1123.2 L921.6,1126.2 L921.1,1129.2 L920.6,1132.2 L920.1,1135.2 L919.7,1138.2 L919.2,1141.2 L918.7,1144.2 L918.3,1147.1 L917.8,1150.1 L917.3,1153.1 L916.8,1156.1 L916.4,1159.1 L915.9,1162.1 L915.4,1165.1 L915.0,1168.1 L914.5,1171.1 L914.0,1174.1 L913.6,1177.0 L913.1,1180.0 L912.6,1183.0 L912.2,1186.0 L911.7,1189.0 L911.3,1192.0 L910.8,1195.0 L910.3,1197.9 L909.9,1200.9 L909.4,1203.9 L909.0,1206.9 L908.5,1209.9 L908.1,1212.8 L907.6,1215.8 L907.2,1218.8 L906.7,1221.8 L906.3,1224.7 L905.9,1227.7 L905.4,1230.7 L905.0,1233.7 L904.5,1236.6 L904.1,1239.6 L903.6,1242.6 L903.2,1245.5 L902.7,1248.5 L902.3,1251.5 L901.8,1254.4 L901.4,1257.4 L900.9,1260.4 L900.5,1263.3 L900.0,1266.3 L899.6,1269.3 L899.1,1272.2 L898.7,1275.2 L898.2,1278.1 L897.7,1281.1 L897.3,1284.0 L896.8,1287.0 L896.3,1289.9 L895.9,1292.9 L895.4,1295.8 L894.9,1298.8 L894.4,1301.7 L894.0,1304.7 L893.5,1307.6 L893.0,1310.5 L892.5,1313.5 L892.0,1316.4 L891.5,1319.4 L891.0,1322.3 L890.5,1325.2 L890.0,1328.1 L889.5,1331.1 L889.0,1334.0 L888.5,1336.9 L888.0,1339.9 L887.4,1342.8 L886.9,1345.7 L886.4,1348.6 L885.8,1351.5 L885.3,1354.4 L884.7,1357.4 L884.2,1360.3 L883.6,1363.2 L883.1,1366.1 L882.5,1369.0 L881.9,1371.9 L881.4,1374.8 L880.8,1377.7 L880.2,1380.6 L879.6,1383.5 L879.0,1386.4 L878.4,1389.3 L877.8,1392.1 L877.2,1395.0 L876.5,1397.9 L875.9,1400.8 L875.3,1403.7 L874.6,1406.5 L874.0,1409.4 L873.3,1412.3 L872.7,1415.2 L872.0,1418.0 L871.3,1420.9 L870.6,1423.8 L869.9,1426.6 L869.2,1429.5 L868.5,1432.3 L867.8,1435.2 L867.1,1438.0 L866.3,1440.9 L865.5,1443.7 L864.8,1446.6 L864.0,1449.4 L863.2,1452.2 L862.4,1455.1 L861.5,1457.9 L860.7,1460.7 L859.8,1463.6 L858.9,1466.4 L858.0,1469.2 L857.1,1472.0 L856.1,1474.8 L855.2,1477.6 L854.2,1480.5 L853.2,1483.3 L852.2,1486.1 L851.1,1488.9 L850.0,1491.7 L848.9,1494.5 L847.8,1497.2 L846.6,1500.0 L845.5,1502.8 L844.3,1505.6 L843.0,1508.4 L841.8,1511.2 L840.5,1513.9 L839.2,1516.7 L837.8,1519.5 L836.5,1522.2 L835.1,1525.0 L833.6,1527.7 L832.1,1530.5 L830.6,1533.3 L829.1,1536.0"/>
<path stroke="#000080" d="M276.5,1530.0 L276.9,1526.9 L277.4,1523.9 L277.9,1520.9 L278.4,1517.8 L279.0,1514.8 L279.6,1511.8 L280.2,1508.9 L280.9,1505.9 L281.6,1503.0 L282.4,1500.0 L283.1,1497.1 L284.0,1494.2 L284.8,1491.3 L285.7,1488.5 L286.6,1485.6 L287.5,1482.8 L288.5,1480.0 L289.5,1477.2 L290.6,1474.4 L291.6,1471.6 L292.8,1468.8 L293.9,1466.1 L295.1,1463.4 L296.3,1460.7 L297.5,1458.0 L298.8,1455.3 L300.1,1452.6 L301.4,1450.0 L302.8,1447.4 L304.2,1444.8 L305.6,1442.2 L307.0,1439.6 L308.5,1437.0 L310.0,1434.5 L311.6,1432.0 L313.2,1429.4 L314.8,1427.0 L316.4,1424.5 L318.1,1422.0 L319.8,1419.6 L321.5,1417.1 L323.2,1414.7 L325.0,1412.3 L326.8,1410.0 L328.6,1407.6 L330.5,1405.3 L332.4,1403.0 L334.3,1400.6 L336.3,1398.4 L338.2,1396.1 L340.3,1393.8 L342.3,1391.6 L344.3,1389.4 L346.4,1387.2 L348.5,1385.0 L350.7,1382.8 L352.8,1380.7 L355.0,1378.6 L357.2,1376.5 L359.5,1374.4 L361.7,1372.3 L364.0,1370.3 L366.3,1368.3 L368.6,1366.3 L371.0,1364.3 L373.3,1362.3 L375.7,1360.4 L378.1,1358.6 L380.6,1356.7 L383.0,1354.9 L385.5,1353.2 L387.9,1351.4 L390.4,1349.8 L392.9,1348.1 L395.5,1346.5 L398.0,1344.9 L400.6,1343.4 L403.1,1341.9 L405.7,1340.4 L408.3,1338.9 L410.9,1337.5 L413.5,1336.1 L416.1,1334.7 L418.8,1333.3 L421.4,1332.0 L424.1,1330.7 L426.8,1329.4 L429.4,1328.1 L432.1,1326.8 L434.8,1325.5 L437.5,1324.3 L440.2,1323.0 L442.9,1321.8 L445.6,1320.6 L448.3,1319.3 L451.1,1318.1 L453.8,1316.9 L456.5,1315.7 L459.2,1314.4 L462.0,1313.2 L464.7,1312.0 L467.4,1310.8 L470.2,1309.5 L472.9,1308.3 L475.6,1307.1 L478.4,1305.9 L481.1,1304.6 L483.9,1303.4 L486.6,1302.2 L489.4,1301.0 L492.1,1299.9 L494.9,1298.7 L497.6,1297.5 L500.4,1296.4 L503.1,1295.3 L505.9,1294.2 L508.6,1293.1 L511.4,1292.0 L514.1,1290.9 L516.9,1289.9 L519.7,1288.9 L522.4,1287.9 L525.2,1286.9 L528.0,1285.9 L530.7,1285.0 L533.5,1284.0 L536.3,1283.0 L539.0,1282.1 L541.8,1281.1 L544.6,1280.2 L547.4,1279.2 L550.1,1278.2 L552.9,1277.3 L555.7,1276.3 L558.5,1275.3 L561.2,1274.2 L564.0,1273.2 L566.8,1272.1 L569.6,1271.0 L572.4,1269.9 L575.2,1268.7 L577.9,1267.6 L580.7,1266.4 L583.5,1265.2 L586.3,1264.0 L589.1,1262.7 L591.9,1261.5 L594.7,1260.2 L597.5,1259.0 L600.3,1257.7 L603.0,1256.4 L605.8,1255.2 L608.6,1253.9 L611.4,1252.6 L614.2,1251.4 L617.0,1250.1 L619.8,1248.8 L622.6,1247.6 L625.4,1246.4 L628.2,1245.1 L631.0,1243.9 L633.8,1242.7 L636.6,1241.5 L639.4,1240.4 L642.2,1239.2 L645.0,1238.0 L647.8,1236.9 L650.6,1235.8 L653.4,1234.6 L656.2,1233.5 L659.0,1232.4 L661.8,1231.3 L664.7,1230.3 L667.5,1229.2 L670.3,1228.1 L673.1,1227.1 L675.9,1226.0 L678.7,1225.0 L681.5,1223.9 L684.3,1222.9 L687.1,1221.9 L689.9,1220.9 L692.7,1219.9 L695.5,1218.9 L698.4,1217.9 L701.2,1216.9 L704.0,1215.9 L706.8,1214.9 L709.6,1213.9 L712.4,1212.9 L715.2,1211.9 L718.0,1210.9 L720.8,1209.9 L723.6,1208.9 L726.4,1207.9 L729.2,1207.0 L732.0,1206.0 L734.8,1205.0 L737.6,1204.0 L740.4,1203.0 L743.2,1202.0 L746.0,1201.0 L748.8,1200.0 L751.6,1198.9 L754.3,1197.9 L757.1,1196.9 L759.9,1195.9 L762.7,1194.8 L765.5,1193.8 L768.2,1192.7 L771.0,1191.7 L773.8,1190.6 L776.5,1189.5 L779.3,1188.4 L782.0,1187.3 L784.8,1186.2 L787.5,1185.1 L790.3,1183.9 L793.0,1182.8 L795.8,1181.6 L798.5,1180.4 L801.2,1179.3 L804.0,1178.0 L806.7,1176.8 L809.4,1175.6 L812.1,1174.4 L814.8,1173.1 L817.5,1171.8 L820.2,1170.5 L822.9,1169.2 L825.6,1167.9 L828.3,1166.6 L831.0,1165.2 L833.6,1163.9 L836.3,1162.5 L839.0,1161.1 L841.6,1159.8 L844.3,1158.3 L846.9,1156.9 L849.6,1155.5 L852.2,1154.1 L854.8,1152.6 L857.5,1151.1 L860.1,1149.7 L862.7,1148.2 L865.3,1146.7 L867.9,1145.1 L870.5,1143.6 L873.0,1142.1 L875.6,1140.5 L878.2,1139.0 L880.7,1137.4 L883.3,1135.8 L885.8,1134.2 L888.4,1132.6 L890.9,1131.0 L893.4,1129.3 L896.0,1127.7 L898.5,1126.0 L901.0,1124.4 L903.4,1122.7 L905.9,1121.0 L908.4,1119.3 L910.9,1117.6 L913.3,1115.9 L915.8,1114.2 L918.2,1112.5 L920.7,1110.7 L923.1,1109.0 L925.5,1107.2 L927.9,1105.4 L930.3,1103.6 L932.7,1101.8 L935.1,1100.0 L937.5,1098.2 L939.9,1096.4 L942.2,1094.6 L944.6,1092.7 L946.9,1090.9 L949.3,1089.0 L951.6,1087.1 L953.9,1085.3 L956.3,1083.4 L958.6,1081.5 L960.9,1079.6 L963.2,1077.7 L965.5,1075.8 L967.8,1073.8 L970.0,1071.9 L972.3,1069.9 L974.6,1068.0 L976.8,1066.0 L979.1,1064.0 L981.3,1062.1 L983.6,1060.1 L985.8,1058.1 L988.0,1056.1 L990.2,1054.1 L992.5,1052.0 L994.7,1050.0 L996.9,1048.0 L999.1,1045.9 L1001.2,1043.9 L1003.4,1041.8 L1005.6,1039.8 L1007.8,1037.7 L1009.9,1035.6 L1012.1,1033.5 L1014.2,1031.5 L1016.4,1029.4 L1018.5,1027.3 L1020.6,1025.1 L1022.7,1023.0 L1024.9,1020.9 L1027.0,1018.8 L1029.1,1016.6 L1031.2,1014.5 L1033.3,1012.3 L1035.4,1010.2 L1037.4,1008.0 L1039.5,1005.9 L1041.6,1003.7 L1043.7,1001.5 L1045.7,999.3 L1047.8,997.1 L1049.8,994.9 L1051.9,992.7 L1053.9,990.5 L1055.9,988.3 L1058.0,986.1 L1060.0,983.9 L1062.0,981.6 L1064.0,979.4 L1066.0,977.1 L1068.0,974.9 L1070.0,972.7 L1072.0,970.4 L1074.0,968.1 L1076.0,965.9 L1077.9,963.6 L1079.9,961.3 L1081.9,959.1 L1083.8,956.8 L1085.8,954.5 L1087.7,952.2 L1089.7,949.9 L1091.6,947.6 L1093.6,945.3 L1095.5,943.0 L1097.4,940.7 L1099.3,938.4 L1101.3,936.1 L1103.2,933.7 L1105.1,931.4 L1107.0,929.1 L1108.9,926.8 L1110.8,924.4 L1112.7,922.1 L1114.6,919.8 L1116.4,917.4 L1118.3,915.1 L1120.2,912.7 L1122.1,910.4 L1123.9,908.0 L1125.8,905.7 L1127.7,903.3 L1129.5,900.9 L1131.4,898.6 L1133.2,896.2 L1135.1,893.8 L1136.9,891.5 L1138.7,889.1 L1140.6,886.7 L1142.4,884.3 L1144.2,882.0 L1146.0,879.6 L1147.9,877.2 L1149.7,874.8 L1151.5,872.4 L1153.3,870.0 L1155.1,867.7 L1156.9,865.3 L1158.7,862.9 L1160.5,860.5 L1162.3,858.1 L1164.1,855.7 L1165.9,853.3 L1167.6,850.9 L1169.4,848.5 L1171.2,846.1 L1171.0,849.1 L1170.7,852.1 L1170.5,855.1 L1170.2,858.1 L1170.0,861.1 L1169.7,864.1 L1169.5,867.1 L1169.2,870.1 L1169.0,873.1 L1168.7,876.1 L1168.5,879.1 L1168.2,882.1 L1168.0,885.1 L1167.7,888.1 L1167.5,891.1 L1167.2,894.1 L1167.0,897.1 L1166.7,900.1 L1166.4,903.1 L1166.2,906.1 L1165.9,909.1 L1165.7,912.1 L1165.4,915.1 L1165.1,918.1 L1164.9,921.1 L1164.6,924.1 L1164.3,927.1 L1164.1,930.1 L1163.8,933.1 L1163.5,936.1 L1163.3,939.0 L1163.0,942.0 L1162.7,945.0 L1162.5,948.0 L1162.2,951.0 L1161.9,954.0 L1161.6,957.0 L1161.4,960.0 L1161.1,963.0 L1160.8,966.0 L1160.5,969.0 L1160.3,972.0 L1160.0,975.0 L1159.7,978.0 L1159.4,981.0 L1159.1,984.0 L1158.8,987.0 L1158.6,990.0 L1158.3,993.0 L1158.0,996.0 L1157.7,999.0 L1157.4,1002.0 L1157.1,1005.0 L1156.8,1008.0 L1156.5,1011.0 L1156.2,1014.0 L1155.9,1017.0 L1155.6,1020.0 L1155.3,1023.0 L1155.1,1026.0 L1154.8,1029.0 L1154.5,1032.0 L1154.2,1035.0 L1153.9,1037.9 L1153.5,1040.9 L1153.2,1043.9 L1152.9,1046.9 L1152.6,1049.9 L1152.3,1052.9 L1152.0,1055.9 L1151.7,1058.9 L1151.4,1061.9 L1151.1,1064.9 L1150.8,1067.9 L1150.5,1070.9 L1150.1,1073.9 L1149.8,1076.9 L1149.5,1079.9 L1149.2,1082.9 L1148.9,1085.9 L1148.6,1088.9 L1148.2,1091.9 L1147.9,1094.9 L1147.6,1097.8 L1147.3,1100.8 L1146.9,1103.8 L1146.6,1106.8 L1146.3,1109.8 L1146.0,1112.8 L1145.6,1115.8 L1145.3,1118.8 L1145.0,1121.8 L1144.6,1124.8 L1144.3,1127.8 L1144.0,1130.8 L1143.6,1133.8 L1143.3,1136.8 L1142.9,1139.8 L1142.6,1142.7 L1142.3,1145.7 L1141.9,1148.7 L1141.6,1151.7 L1141.2,1154.7 L1140.9,1157.7 L1140.5,1160.7 L1140.2,1163.7 L1139.8,1166.7 L1139.5,1169.7 L1139.1,1172.7 L1138.8,1175.6 L1138.4,1178.6 L1138.1,1181.6 L1137.7,1184.6 L1137.4,1187.6 L1137.0,1190.6 L1136.6,1193.6 L1136.3,1196.6 L1135.9,1199.6 L1135.5,1202.6 L1135.2,1205.5 L1134.8,1208.5 L1134.4,1211.5 L1134.1,1214.5 L1133.7,1217.5 L1133.3,1220.5 L1133.0,1223.5 L1132.6,1226.5 L1132.2,1229.4 L1131.8,1232.4 L1131.4,1235.4 L1131.1,1238.4 L1130.7,1241.4 L1130.3,1244.4 L1129.9,1247.4 L1129.5,1250.4 L1129.1,1253.3 L1128.8,1256.3 L1128.4,1259.3 L1128.0,1262.3 L1127.6,1265.3 L1127.2,1268.3 L1126.8,1271.3 L1126.4,1274.2 L1126.0,1277.2 L1125.6,1280.2 L1125.2,1283.2 L1124.8,1286.2 L1124.4,1289.2 L1124.0,1292.1 L1123.6,1295.1 L1123.2,1298.1 L1122.8,1301.1 L1122.4,1304.1 L1122.0,1307.1 L1121.5,1310.0 L1121.1,1313.0 L1120.7,1316.0 L1120.3,1319.0 L1119.9,1322.0 L1119.5,1325.0 L1119.0,1327.9 L1118.6,1330.9 L1118.2,1333.9 L1117.8,1336.9 L1117.3,1339.9 L1116.9,1342.8 L1116.5,1345.8 L1116.1,1348.8 L1115.6,1351.8 L1115.2,1354.8 L1114.8,1357.7 L1114.3,1360.7 L1113.9,1363.7 L1113.4,1366.7 L1113.0,1369.7 L1112.6,1372.6 L1112.1,1375.6 L1111.7,1378.6 L1111.2,1381.6 L1110.8,1384.5 L1110.3,1387.5 L1109.9,1390.5 L1109.4,1393.5 L1109.0,1396.4 L1108.5,1399.4 L1108.1,1402.4 L1107.6,1405.4 L1107.1,1408.3 L1106.7,1411.3 L1106.2,1414.3 L1105.8,1417.3 L1105.3,1420.2 L1104.8,1423.2 L1104.4,1426.2 L1103.9,1429.2 L1103.4,1432.1 L1102.9,1435.1 L1102.5,1438.1 L1102.0,1441.0 L1101.5,1444.0 L1101.0,1447.0 L1100.5,1450.0 L1100.1,1452.9 L1099.6,1455.9 L1099.1,1458.9 L1098.6,1461.8 L1098.1,1464.8 L1097.6,1467.8 L1097.1,1470.8 L1096.6,1473.7 L1096.1,1476.7 L1095.6,1479.7 L1095.2,1482.6 L1094.7,1485.6 L1094.1,1488.6 L1093.6,1491.5 L1093.1,1494.5 L1092.6,1497.5 L1092.1,1500.4 L1091.6,1503.4 L1091.1,1506.4 L1090.6,1509.3 L1090.1,1512.3 L1089.6,1515.3 L1089.0,1518.2 L1088.5,1521.2 L1088.0,1524.1 L1087.5,1527.1 L1087.0,1530.1 L1086.4,1533.0 L1085.9,1536.0"/>
<path stroke="#8000FF" d="M276.5,1530.0 L276.4,1527.1 L276.3,1524.1 L276.3,1521.2 L276.3,1518.2 L276.3,1515.3 L276.3,1512.3 L276.4,1509.4 L276.5,1506.4 L276.7,1503.4 L276.8,1500.4 L277.0,1497.5 L277.2,1494.5 L277.5,1491.5 L277.8,1488.5 L278.1,1485.5 L278.4,1482.5 L278.7,1479.6 L279.1,1476.6 L279.5,1473.6 L280.0,1470.6 L280.5,1467.6 L281.0,1464.6 L281.5,1461.7 L282.0,1458.7 L282.6,1455.7 L283.2,1452.7 L283.9,1449.8 L284.5,1446.8 L285.2,1443.9 L285.9,1440.9 L286.7,1438.0 L287.4,1435.0 L288.2,1432.1 L289.0,1429.2 L289.9,1426.3 L290.7,1423.4 L291.6,1420.5 L292.6,1417.6 L293.5,1414.7 L294.5,1411.8 L295.5,1408.9 L296.5,1406.1 L297.5,1403.3 L298.6,1400.4 L299.7,1397.6 L300.8,1394.8 L302.0,1392.0 L303.2,1389.2 L304.4,1386.5 L305.6,1383.7 L306.8,1381.0 L308.1,1378.3 L309.4,1375.6 L310.8,1372.9 L312.2,1370.3 L313.6,1367.6 L315.0,1365.0 L316.5,1362.4 L317.9,1359.8 L319.5,1357.3 L321.0,1354.8 L322.6,1352.3 L324.3,1349.8 L325.9,1347.3 L327.6,1344.9 L329.4,1342.5 L331.1,1340.1 L333.0,1337.8 L334.8,1335.5 L336.7,1333.2 L338.6,1331.0 L340.6,1328.7 L342.6,1326.6 L344.6,1324.4 L346.7,1322.3 L348.8,1320.2 L351.0,1318.2 L353.1,1316.2 L355.4,1314.2 L357.6,1312.2 L359.9,1310.3 L362.2,1308.5 L364.5,1306.6 L366.8,1304.8 L369.2,1303.0 L371.6,1301.3 L374.1,1299.5 L376.5,1297.8 L379.0,1296.2 L381.5,1294.5 L384.0,1292.9 L386.5,1291.3 L389.1,1289.7 L391.7,1288.1 L394.2,1286.6 L396.8,1285.1 L399.5,1283.6 L402.1,1282.1 L404.8,1280.6 L407.4,1279.2 L410.1,1277.8 L412.8,1276.3 L415.5,1274.9 L418.2,1273.6 L420.9,1272.2 L423.6,1270.8 L426.3,1269.5 L429.0,1268.1 L431.8,1266.8 L434.5,1265.5 L437.2,1264.1 L440.0,1262.8 L442.7,1261.5 L445.5,1260.2 L448.2,1258.9 L451.0,1257.6 L453.7,1256.3 L456.5,1255.0 L459.2,1253.8 L461.9,1252.5 L464.7,1251.2 L467.4,1250.0 L470.2,1248.7 L472.9,1247.5 L475.7,1246.3 L478.5,1245.0 L481.2,1243.8 L484.0,1242.6 L486.7,1241.4 L489.5,1240.2 L492.3,1239.0 L495.0,1237.9 L497.8,1236.7 L500.6,1235.6 L503.3,1234.4 L506.1,1233.3 L508.9,1232.2 L511.6,1231.1 L514.4,1230.0 L517.2,1228.9 L520.0,1227.8 L522.8,1226.8 L525.6,1225.7 L528.3,1224.7 L531.1,1223.7 L533.9,1222.7 L536.7,1221.7 L539.5,1220.7 L542.3,1219.8 L545.1,1218.8 L547.9,1217.9 L550.8,1217.0 L553.6,1216.1 L556.4,1215.2 L559.2,1214.3 L562.0,1213.5 L564.9,1212.6 L567.7,1211.8 L570.5,1211.0 L573.4,1210.2 L576.2,1209.5 L579.0,1208.7 L581.9,1208.0 L584.7,1207.2 L587.6,1206.5 L590.5,1205.9 L593.3,1205.2 L596.2,1204.5 L599.1,1203.9 L601.9,1203.2 L604.8,1202.6 L607.7,1202.0 L610.6,1201.3 L613.5,1200.7 L616.4,1200.1 L619.3,1199.5 L622.2,1198.9 L625.1,1198.4 L628.0,1197.8 L630.9,1197.2 L633.8,1196.6 L636.8,1196.0 L639.7,1195.5 L642.7,1194.9 L645.6,1194.3 L648.5,1193.7 L651.5,1193.1 L654.5,1192.6 L657.4,1192.0 L660.4,1191.4 L663.4,1190.8 L666.3,1190.2 L669.3,1189.6 L672.3,1188.9 L675.3,1188.3 L678.3,1187.7 L681.3,1187.0 L684.4,1186.4 L687.4,1185.7 L690.4,1185.0 L704.0,1189.1 L706.6,1187.5 L709.2,1185.8 L711.8,1184.3 L714.4,1182.7 L717.0,1181.2 L719.6,1179.7 L722.2,1178.2 L724.8,1176.7 L727.4,1175.2 L730.1,1173.7 L732.7,1172.3 L735.3,1170.8 L737.9,1169.4 L740.4,1167.9 L743.0,1166.4 L745.6,1164.9 L748.2,1163.4 L750.7,1161.9 L753.2,1160.4 L755.8,1158.8 L758.3,1157.2 L760.8,1155.6 L763.3,1154.0 L765.7,1152.4 L768.2,1150.7 L770.6,1149.0 L773.1,1147.3 L775.5,1145.6 L777.9,1143.9 L780.3,1142.1 L782.7,1140.3 L785.0,1138.5 L787.4,1136.7 L789.7,1134.9 L792.1,1133.0 L794.4,1131.1 L796.7,1129.2 L799.0,1127.3 L801.3,1125.4 L803.6,1123.5 L805.8,1121.5 L808.1,1119.6 L810.3,1117.6 L812.6,1115.6 L814.8,1113.6 L817.0,1111.6 L819.2,1109.6 L821.4,1107.5 L823.6,1105.5 L825.8,1103.4 L828.0,1101.3 L830.1,1099.3 L832.3,1097.2 L834.4,1095.1 L836.6,1093.0 L838.7,1090.8 L840.8,1088.7 L842.9,1086.6 L845.0,1084.4 L847.1,1082.3 L849.2,1080.1 L851.3,1078.0 L853.4,1075.8 L855.5,1073.6 L857.5,1071.4 L859.6,1069.2 L861.7,1067.1 L863.7,1064.9 L865.8,1062.7 L867.8,1060.5 L869.8,1058.2 L871.9,1056.0 L873.9,1053.8 L875.9,1051.6 L877.9,1049.4 L879.9,1047.1 L882.0,1044.9 L884.0,1042.7 L886.0,1040.5 L888.0,1038.2 L890.0,1036.0 L892.0,1033.7 L894.0,1031.5 L896.0,1029.3 L898.0,1027.0 L900.0,1024.8 L902.0,1022.5 L904.0,1020.3 L906.0,1018.1 L908.0,1015.8 L910.0,1013.6 L911.9,1011.3 L913.9,1009.1 L915.9,1006.9 L917.9,1004.6 L920.0,1002.4 L922.0,1000.2 L924.0,997.9 L926.0,995.7 L928.0,993.5 L930.0,991.3 L932.0,989.0 L934.0,986.8 L936.1,984.6 L938.1,982.4 L940.1,980.2 L942.2,978.0 L944.2,975.8 L946.3,973.6 L948.3,971.5 L950.4,969.3 L952.5,967.1 L954.5,965.0 L956.6,962.8 L958.7,960.6 L960.8,958.5 L962.9,956.4 L965.0,954.2 L967.1,952.1 L969.3,950.0 L971.4,947.9 L973.5,945.8 L975.7,943.7 L977.9,941.6 L980.0,939.6 L982.2,937.5 L984.4,935.4 L986.6,933.4 L987.0,927.4 L989.2,925.3 L991.4,923.3 L993.5,921.2 L995.7,919.1 L997.9,917.0 L1000.0,914.9 L1002.2,912.9 L1004.3,910.8 L1006.5,908.7 L1008.7,906.6 L1010.8,904.5 L1013.0,902.4 L1015.1,900.3 L1017.3,898.2 L1019.4,896.1 L1021.5,894.0 L1023.7,891.9 L1025.8,889.7 L1028.0,887.6 L1030.1,885.5 L1032.2,883.4 L1034.4,881.3 L1036.5,879.1 L1038.6,877.0 L1040.7,874.9 L1042.9,872.7 L1045.0,870.6 L1047.1,868.5 L1049.2,866.3 L1051.4,864.2 L1053.5,862.1 L1055.6,859.9 L1057.7,857.8 L1059.8,855.6 L1061.9,853.5 L1064.0,851.3 L1066.2,849.2 L1068.3,847.1 L1070.4,844.9 L1072.5,842.8 L1074.6,840.6 L1076.7,838.5 L1078.8,836.3 L1080.9,834.1 L1083.0,832.0 L1085.1,829.8 L1087.2,827.7 L1089.4,825.5 L1091.5,823.4 L1093.6,821.2 L1095.7,819.1 L1097.8,816.9 L1099.9,814.7 L1102.0,812.6 L1104.1,810.4 L1106.2,808.3 L1108.3,806.1 L1110.4,804.0 L1112.5,801.8 L1114.6,799.7 L1116.7,797.5 L1118.8,795.3 L1120.9,793.2 L1123.0,791.0 L1125.2,788.9 L1127.3,786.7 L1129.4,784.6 L1131.5,782.4 L1133.6,780.3 L1135.7,778.1 L1137.8,776.0 L1139.9,773.8 L1142.1,771.7 L1144.2,769.5 L1146.3,767.4 L1148.4,765.2 L1150.5,763.1 L1152.6,761.0 L1154.8,758.8 L1156.9,756.7 L1159.0,754.6 L1161.1,752.4 L1163.3,750.3 L1165.4,748.2 L1167.5,746.0 L1169.7,743.9 L1171.8,741.8 L1173.9,739.7 L1176.1,737.5 L1178.2,735.4 L1180.3,733.3 L1182.5,731.2 L1184.6,729.1 L1186.8,727.0 L1188.9,724.9 L1191.1,722.8 L1193.2,720.6 L1195.4,718.6 L1197.5,716.5 L1199.7,714.4 L1201.9,712.3 L1204.0,710.2 L1206.2,708.1 L1208.4,706.0 L1210.6,703.9 L1212.7,701.9 L1214.9,699.8 L1217.1,697.7 L1219.3,695.6 L1221.5,693.6 L1223.7,691.5 L1225.8,689.5 L1228.0,687.4 L1230.2,685.4 L1232.4,683.3 L1234.6,681.3 L1236.9,679.2 L1239.1,677.2 L1241.3,675.2 L1243.5,673.2 L1245.7,671.1 L1248.0,669.1 L1250.2,667.1 L1252.4,665.1 L1254.7,663.1 L1256.9,661.1 L1259.1,659.1 L1261.4,657.1 L1263.6,655.1 L1265.9,653.1 L1268.2,651.1 L1270.4,649.2 L1272.7,647.2 L1275.0,645.2 L1277.2,643.3 L1279.5,641.3 L1281.8,639.4 L1284.1,637.4 L1286.4,635.5 L1288.7,633.6 L1291.0,631.6 L1293.3,629.7 L1295.6,627.8 L1297.9,625.9 L1300.2,624.0 L1302.6,622.1 L1304.9,620.2 L1307.2,618.3 L1309.6,616.4 L1311.9,614.5 L1314.3,612.7 L1316.6,610.8 L1319.0,608.9 L1321.4,607.1 L1323.7,605.2 L1326.1,603.4 L1328.5,601.6 L1330.9,599.7 L1333.3,597.9 L1335.7,596.1 L1338.1,594.3 L1340.5,592.5 L1342.9,590.7 L1345.3,588.9 L1347.7,587.1 L1350.2,585.3 L1352.6,583.6 L1355.1,581.8 L1357.5,580.0 L1360.0,578.3 L1362.4,576.6 L1364.9,574.8 L1367.4,573.1 L1369.8,571.4 L1372.3,569.7 L1374.8,568.0 L1377.3,566.3 L1379.8,564.6 L1382.3,562.9 L1384.9,561.2 L1387.4,559.6 L1389.9,557.9 L1392.5,556.2 L1395.0,554.6 L1394.7,557.6 L1394.4,560.6 L1394.1,563.6 L1393.8,566.5 L1393.5,569.5 L1393.2,572.5 L1392.9,575.5 L1392.5,578.5 L1392.2,581.5 L1391.9,584.5 L1391.6,587.4 L1391.3,590.4 L1391.0,593.4 L1390.7,596.4 L1390.4,599.4 L1390.1,602.4 L1389.8,605.4 L1389.5,608.4 L1389.2,611.3 L1388.9,614.3 L1388.6,617.3 L1388.3,620.3 L1387.9,623.3 L1387.6,626.3 L1387.3,629.3 L1387.0,632.3 L1386.7,635.2 L1386.4,638.2 L1386.1,641.2 L1385.8,644.2 L1385.5,647.2 L1385.2,650.2 L1384.9,653.2 L1384.6,656.2 L1384.3,659.1 L1383.9,662.1 L1383.6,665.1 L1383.3,668.1 L1383.0,671.1 L1382.7,674.1 L1382.4,677.1 L1382.1,680.1 L1381.8,683.0 L1381.5,686.0 L1381.2,689.0 L1380.9,692.0 L1380.5,695.0 L1380.2,698.0 L1379.9,701.0 L1379.6,704.0 L1379.3,707.0 L1379.0,709.9 L1378.7,712.9 L1378.4,715.9 L1378.1,718.9 L1377.7,721.9 L1377.4,724.9 L1377.1,727.9 L1376.8,730.9 L1376.5,733.8 L1376.2,736.8 L1375.9,739.8 L1375.6,742.8 L1375.3,745.8 L1374.9,748.8 L1374.6,751.8 L1374.3,754.8 L1374.0,757.8 L1373.7,760.7 L1373.4,763.7 L1373.1,766.7 L1372.7,769.7 L1372.4,772.7 L1372.1,775.7 L1371.8,778.7 L1371.5,781.7 L1371.2,784.7 L1370.8,787.6 L1370.5,790.6 L1370.2,793.6 L1369.9,796.6 L1369.6,799.6 L1369.3,802.6 L1368.9,805.6 L1368.6,808.6 L1368.3,811.5 L1368.0,814.5 L1367.7,817.5 L1367.4,820.5 L1367.0,823.5 L1366.7,826.5 L1366.4,829.5 L1366.1,832.5 L1365.8,835.5 L1365.4,838.4 L1365.1,841.4 L1364.8,844.4 L1364.5,847.4 L1364.2,850.4 L1363.8,853.4 L1363.5,856.4 L1363.2,859.4 L1362.9,862.4 L1362.5,865.3 L1362.2,868.3 L1361.9,871.3 L1361.6,874.3 L1361.2,877.3 L1360.9,880.3 L1360.6,883.3 L1360.3,886.3 L1359.9,889.3 L1359.6,892.2 L1359.3,895.2 L1359.0,898.2 L1358.6,901.2 L1358.3,904.2 L1358.0,907.2 L1357.6,910.2 L1357.3,913.2 L1357.0,916.1 L1356.7,919.1 L1356.3,922.1 L1356.0,925.1 L1355.7,928.1 L1355.3,931.1 L1355.0,934.1 L1354.7,937.1 L1354.3,940.1 L1354.0,943.0 L1353.7,946.0 L1353.3,949.0 L1353.0,952.0 L1352.7,955.0 L1352.3,958.0 L1352.0,961.0 L1351.7,964.0 L1351.3,966.9 L1351.0,969.9 L1350.7,972.9 L1350.3,975.9 L1350.0,978.9 L1349.6,981.9 L1349.3,984.9 L1349.0,987.9 L1348.6,990.8 L1348.3,993.8 L1347.9,996.8 L1347.6,999.8 L1347.3,1002.8 L1346.9,1005.8 L1346.6,1008.8 L1346.2,1011.8 L1345.9,1014.7 L1345.6,1017.7 L1345.2,1020.7 L1344.9,1023.7 L1344.5,1026.7 L1344.2,1029.7 L1343.8,1032.7 L1343.5,1035.6 L1343.1,1038.6 L1342.8,1041.6 L1342.4,1044.6 L1342.1,1047.6 L1341.7,1050.6 L1341.4,1053.6 L1341.0,1056.6 L1340.7,1059.5 L1340.3,1062.5 L1340.0,1065.5 L1339.6,1068.5 L1339.3,1071.5 L1338.9,1074.5 L1338.6,1077.5 L1338.2,1080.4 L1337.9,1083.4 L1337.5,1086.4 L1337.2,1089.4 L1336.8,1092.4 L1336.4,1095.4 L1336.1,1098.4 L1335.7,1101.3 L1335.4,1104.3 L1335.0,1107.3 L1334.6,1110.3 L1334.3,1113.3 L1333.9,1116.3 L1333.6,1119.2 L1333.2,1122.2 L1332.8,1125.2 L1332.5,1128.2 L1332.1,1131.2 L1331.7,1134.2 L1331.4,1137.2 L1331.0,1140.1 L1330.6,1143.1 L1330.3,1146.1 L1329.9,1149.1 L1329.5,1152.1 L1329.2,1155.1 L1328.8,1158.0 L1328.4,1161.0 L1328.1,1164.0 L1327.7,1167.0 L1327.3,1170.0 L1326.9,1173.0 L1326.6,1175.9 L1326.2,1178.9 L1325.8,1181.9 L1325.5,1184.9 L1325.1,1187.9 L1324.7,1190.9 L1324.3,1193.8 L1323.9,1196.8 L1323.6,1199.8 L1323.2,1202.8 L1322.8,1205.8 L1322.4,1208.7 L1322.0,1211.7 L1321.7,1214.7 L1321.3,1217.7 L1320.9,1220.7 L1320.5,1223.7 L1320.1,1226.6 L1319.7,1229.6 L1319.4,1232.6 L1319.0,1235.6 L1318.6,1238.6 L1318.2,1241.5 L1317.8,1244.5 L1317.4,1247.5 L1317.0,1250.5 L1316.6,1253.5 L1316.2,1256.4 L1315.9,1259.4 L1315.5,1262.4 L1315.1,1265.4 L1314.7,1268.4 L1314.3,1271.3 L1313.9,1274.3 L1313.5,1277.3 L1313.1,1280.3 L1312.7,1283.3 L1312.3,1286.2 L1311.9,1289.2 L1311.5,1292.2 L1311.1,1295.2 L1310.7,1298.2 L1310.3,1301.1 L1309.9,1304.1 L1309.5,1307.1 L1309.1,1310.1 L1308.7,1313.1 L1308.3,1316.0 L1307.9,1319.0 L1307.4,1322.0 L1307.0,1325.0 L1306.6,1327.9 L1306.2,1330.9 L1305.8,1333.9 L1305.4,1336.9 L1305.0,1339.8 L1304.6,1342.8 L1304.2,1345.8 L1303.7,1348.8 L1303.3,1351.8 L1302.9,1354.7 L1302.5,1357.7 L1302.1,1360.7 L1301.6,1363.7 L1301.2,1366.6 L1300.8,1369.6 L1300.4,1372.6 L1300.0,1375.6 L1299.5,1378.5 L1299.1,1381.5 L1298.7,1384.5 L1298.3,1387.5 L1297.8,1390.4 L1297.4,1393.4 L1297.0,1396.4 L1296.5,1399.4 L1296.1,1402.3 L1295.7,1405.3 L1295.3,1408.3 L1294.8,1411.3 L1294.4,1414.2 L1294.0,1417.2 L1293.5,1420.2 L1293.1,1423.1 L1292.6,1426.1 L1292.2,1429.1 L1291.8,1432.1 L1291.3,1435.0 L1290.9,1438.0 L1290.4,1441.0 L1290.0,1444.0 L1289.6,1446.9 L1289.1,1449.9 L1288.7,1452.9 L1288.2,1455.8 L1287.8,1458.8 L1287.3,1461.8 L1286.9,1464.8 L1286.4,1467.7 L1286.0,1470.7 L1285.5,1473.7 L1285.1,1476.6 L1284.6,1479.6 L1284.2,1482.6 L1283.7,1485.5 L1283.2,1488.5 L1282.8,1491.5 L1282.3,1494.5 L1281.9,1497.4 L1281.4,1500.4 L1280.9,1503.4 L1280.5,1506.3 L1280.0,1509.3 L1279.6,1512.3 L1279.1,1515.2 L1278.6,1518.2 L1278.2,1521.2 L1277.7,1524.1 L1277.2,1527.1 L1276.7,1530.1 L1276.3,1533.0 L1275.8,1536.0"/>
<path stroke="#800080" d="M276.5,1530.0 L276.5,1527.0 L276.6,1524.0 L276.7,1521.0 L276.8,1518.1 L277.0,1515.1 L277.2,1512.1 L277.4,1509.1 L277.7,1506.1 L278.0,1503.1 L278.4,1500.1 L278.8,1497.1 L279.2,1494.2 L279.6,1491.2 L280.1,1488.2 L280.6,1485.2 L281.2,1482.3 L281.8,1479.3 L282.4,1476.3 L283.0,1473.4 L283.7,1470.4 L284.4,1467.5 L285.2,1464.6 L285.9,1461.6 L286.7,1458.7 L287.6,1455.8 L288.4,1452.9 L289.3,1450.0 L290.2,1447.1 L291.2,1444.2 L292.1,1441.4 L293.1,1438.5 L294.1,1435.6 L295.2,1432.8 L296.3,1430.0 L297.4,1427.2 L298.5,1424.4 L299.6,1421.6 L300.8,1418.8 L302.0,1416.1 L303.2,1413.3 L304.5,1410.6 L305.7,1407.9 L307.0,1405.2 L308.3,1402.5 L309.6,1399.8 L311.0,1397.2 L312.3,1394.5 L313.7,1391.9 L315.1,1389.3 L316.6,1386.7 L318.0,1384.2 L319.5,1381.6 L321.0,1379.1 L322.5,1376.6 L324.1,1374.1 L325.7,1371.7 L327.3,1369.2 L329.0,1366.8 L330.7,1364.4 L332.4,1362.0 L334.2,1359.6 L336.1,1357.2 L338.0,1354.9 L339.9,1352.6 L341.8,1350.3 L343.8,1348.0 L345.9,1345.7 L347.9,1343.5 L350.0,1341.2 L352.1,1339.0 L354.3,1336.8 L356.4,1334.7 L358.6,1332.5 L360.8,1330.4 L363.0,1328.2 L365.2,1326.1 L367.4,1324.0 L369.6,1322.0 L371.9,1319.9 L374.1,1317.9 L376.3,1315.9 L378.5,1313.9 L380.8,1311.9 L383.0,1309.9 L385.3,1308.0 L387.5,1306.1 L389.7,1304.2 L392.0,1302.3 L394.3,1300.5 L396.6,1298.7 L398.8,1296.9 L401.1,1295.1 L403.5,1293.4 L405.8,1291.7 L408.1,1290.0 L410.5,1288.3 L412.9,1286.7 L415.3,1285.1 L417.7,1283.5 L420.1,1281.9 L422.6,1280.4 L425.1,1278.9 L427.6,1277.4 L430.2,1275.9 L432.7,1274.5 L435.3,1273.0 L438.0,1271.6 L440.6,1270.2 L443.3,1268.9 L446.0,1267.5 L448.8,1266.1 L451.5,1264.8 L454.3,1263.5 L457.1,1262.2 L459.9,1260.9 L462.8,1259.6 L465.6,1258.3 L468.4,1257.0 L471.3,1255.7 L474.1,1254.4 L477.0,1253.1 L479.8,1251.8 L482.7,1250.6 L485.5,1249.3 L488.3,1247.9 L491.1,1246.6 L493.9,1245.3 L496.6,1244.0 L499.4,1242.6 L502.1,1241.3 L504.9,1239.9 L507.6,1238.5 L510.3,1237.2 L513.0,1235.8 L515.6,1234.4 L518.3,1232.9 L521.0,1231.5 L523.6,1230.1 L526.2,1228.6 L528.8,1227.2 L531.4,1225.7 L534.0,1224.2 L536.6,1222.7 L539.2,1221.2 L541.7,1219.7 L544.2,1218.2 L546.8,1216.6 L549.3,1215.1 L551.8,1213.5 L554.3,1211.9 L556.8,1210.3 L559.2,1208.7 L561.7,1207.1 L564.1,1205.4 L566.6,1203.8 L569.0,1202.1 L571.4,1200.4 L573.8,1198.7 L576.2,1197.0 L578.6,1195.3 L581.0,1193.5 L583.3,1191.7 L585.7,1190.0 L588.0,1188.2 L590.4,1186.3 L592.7,1184.5 L595.0,1182.7 L597.3,1180.8 L599.6,1178.9 L601.9,1177.0 L604.1,1175.1 L606.4,1173.1 L608.7,1171.2 L610.9,1169.2 L613.1,1167.2 L615.4,1165.2 L617.6,1163.2 L619.8,1161.1 L622.0,1159.1 L624.2,1157.0 L626.4,1155.0 L628.6,1152.9 L630.7,1150.8 L632.9,1148.6 L635.0,1146.5 L637.2,1144.4 L639.3,1142.2 L641.5,1140.1 L643.6,1137.9 L645.7,1135.7 L647.8,1133.5 L649.9,1131.3 L652.0,1129.1 L654.1,1126.9 L656.2,1124.6 L658.2,1122.4 L660.3,1120.2 L662.4,1117.9 L664.4,1115.7 L666.5,1113.4 L668.5,1111.1 L670.6,1108.9 L672.6,1106.6 L674.6,1104.3 L676.6,1102.0 L678.6,1099.7 L680.6,1097.4 L682.6,1095.2 L684.6,1092.9 L686.6,1090.6 L688.6,1088.3 L690.6,1086.0 L692.6,1083.7 L694.5,1081.4 L696.5,1079.1 L698.4,1076.7 L700.4,1074.4 L702.4,1072.1 L704.3,1069.8 L706.2,1067.5 L708.2,1065.2 L710.1,1062.9 L712.0,1060.6 L714.0,1058.3 L715.9,1055.9 L717.8,1053.6 L719.7,1051.3 L721.6,1049.0 L723.5,1046.7 L725.4,1044.3 L727.3,1042.0 L729.2,1039.7 L731.1,1037.4 L733.0,1035.0 L734.8,1032.7 L736.7,1030.4 L738.6,1028.1 L740.5,1025.7 L742.3,1023.4 L744.2,1021.1 L746.0,1018.7 L747.9,1016.4 L749.8,1014.1 L751.6,1011.7 L753.5,1009.4 L755.3,1007.1 L757.2,1004.7 L759.0,1002.4 L760.8,1000.0 L762.7,997.7 L764.5,995.4 L766.3,993.0 L768.2,990.7 L770.0,988.3 L771.8,986.0 L773.6,983.6 L775.5,981.3 L777.3,979.0 L779.1,976.6 L780.9,974.3 L782.7,971.9 L784.5,969.6 L786.4,967.2 L788.2,964.9 L790.0,962.5 L791.8,960.2 L793.6,957.8 L795.4,955.5 L797.2,953.1 L799.0,950.8 L800.8,948.4 L802.6,946.1 L804.4,943.7 L806.2,941.4 L808.0,939.0 L809.8,936.7 L811.6,934.3 L813.4,932.0 L815.2,929.6 L817.0,927.3 L818.8,924.9 L820.6,922.6 L822.4,920.2 L824.2,917.8 L826.0,915.5 L827.8,913.1 L829.6,910.8 L831.4,908.4 L833.2,906.1 L835.0,903.7 L836.8,901.4 L838.6,899.0 L840.4,896.7 L842.2,894.3 L844.0,892.0 L845.8,889.6 L847.6,887.3 L849.4,884.9 L851.2,882.5 L853.0,880.2 L854.8,877.8 L856.6,875.5 L858.4,873.1 L860.2,870.8 L862.0,868.4 L863.9,866.1 L865.7,863.7 L867.5,861.4 L869.3,859.0 L871.1,856.7 L873.0,854.3 L874.8,852.0 L876.6,849.6 L878.4,847.3 L880.3,844.9 L882.1,842.6 L884.0,840.2 L885.8,837.9 L887.6,835.5 L889.5,833.2 L891.3,830.9 L893.2,828.5 L895.0,826.2 L896.9,823.8 L898.8,821.5 L900.6,819.1 L902.5,816.8 L904.4,814.5 L906.2,812.1 L908.1,809.8 L910.0,807.4 L911.9,805.1 L913.7,802.8 L915.6,800.4 L917.5,798.1 L919.4,795.8 L921.3,793.4 L923.2,791.1 L925.1,788.8 L927.0,786.4 L929.0,784.1 L930.9,781.8 L932.8,779.4 L934.7,777.1 L936.6,774.8 L938.6,772.5 L940.5,770.1 L942.4,767.8 L944.4,765.5 L946.3,763.2 L948.2,760.9 L950.2,758.5 L952.1,756.2 L954.1,753.9 L956.0,751.6 L958.0,749.3 L959.9,747.0 L961.9,744.6 L963.9,742.3 L965.8,740.0 L967.8,737.7 L969.8,735.4 L971.7,733.1 L973.7,730.8 L975.7,728.5 L977.7,726.2 L979.6,723.9 L981.6,721.6 L983.6,719.3 L985.6,717.0 L987.6,714.7 L989.6,712.4 L991.6,710.1 L993.5,707.8 L995.5,705.5 L997.5,703.2 L999.5,701.0 L1001.5,698.7 L1003.5,696.4 L1005.5,694.1 L1007.5,691.8 L1009.5,689.5 L1011.6,687.3 L1013.6,685.0 L1015.6,682.7 L1017.6,680.5 L1019.6,678.2 L1021.6,675.9 L1023.6,673.6 L1025.6,671.4 L1027.7,669.1 L1029.7,666.9 L1031.7,664.6 L1033.7,662.3 L1035.8,660.1 L1037.8,657.8 L1039.8,655.6 L1041.8,653.4 L1043.9,651.1 L1045.9,648.9 L1047.9,646.6 L1050.0,644.4 L1052.0,642.2 L1054.1,639.9 L1056.1,637.7 L1058.2,635.5 L1060.2,633.3 L1062.3,631.1 L1064.3,628.9 L1066.4,626.7 L1068.5,624.5 L1070.5,622.3 L1072.6,620.1 L1074.7,617.9 L1076.8,615.7 L1078.9,613.6 L1080.9,611.4 L1083.0,609.2 L1085.1,607.1 L1087.2,604.9 L1089.3,602.8 L1091.4,600.6 L1093.5,598.5 L1095.7,596.4 L1097.8,594.3 L1099.9,592.1 L1102.0,590.0 L1104.2,587.9 L1106.3,585.8 L1108.4,583.7 L1110.6,581.7 L1112.7,579.6 L1114.9,577.5 L1117.1,575.5 L1119.2,573.4 L1121.4,571.4 L1123.6,569.3 L1125.8,567.3 L1128.0,565.3 L1130.2,563.2 L1132.4,561.2 L1134.6,559.2 L1136.8,557.2 L1139.0,555.3 L1141.2,553.3 L1143.5,551.3 L1145.7,549.3 L1147.9,547.4 L1150.2,545.5 L1152.5,543.5 L1154.7,541.6 L1157.0,539.7 L1159.3,537.8 L1161.6,535.9 L1163.8,534.0 L1166.1,532.1 L1168.4,530.3 L1170.8,528.4 L1173.1,526.6 L1175.4,524.7 L1177.7,522.9 L1180.1,521.1 L1182.4,519.3 L1184.8,517.5 L1187.2,515.7 L1189.5,513.9 L1191.9,512.2 L1194.3,510.4 L1196.7,508.7 L1199.1,507.0 L1201.5,505.2 L1203.9,503.5 L1206.4,501.8 L1208.8,500.2 L1211.3,498.5 L1213.7,496.8 L1216.2,495.2 L1218.7,493.6 L1221.2,491.9 L1223.6,490.3 L1226.2,488.7 L1228.7,487.2 L1231.2,485.6 L1233.7,484.0 L1236.3,482.5 L1238.8,481.0 L1241.4,479.4 L1243.9,477.9 L1246.5,476.4 L1249.1,474.9 L1251.7,473.5 L1254.3,472.0 L1256.9,470.6 L1259.5,469.1 L1262.1,467.7 L1264.7,466.3 L1267.3,464.9 L1270.0,463.5 L1272.6,462.1 L1275.3,460.7 L1278.0,459.3 L1280.6,458.0 L1283.3,456.6 L1286.0,455.3 L1288.7,454.0 L1291.4,452.6 L1294.1,451.3 L1296.8,450.0 L1299.5,448.8 L1302.2,447.5 L1305.0,446.2 L1307.7,444.9 L1310.4,443.7 L1313.2,442.4 L1315.9,441.2 L1318.7,440.0 L1321.4,438.8 L1324.2,437.6 L1327.0,436.4 L1329.8,435.2 L1332.5,434.0 L1335.3,432.8 L1338.1,431.6 L1340.9,430.5 L1343.7,429.3 L1346.5,428.2 L1349.3,427.0 L1352.1,425.9 L1354.9,424.8 L1357.8,423.7 L1360.6,422.6 L1363.4,421.5 L1366.3,420.4 L1369.1,419.3 L1371.9,418.2 L1374.8,417.1 L1377.6,416.0 L1380.5,415.0 L1383.3,413.9 L1386.2,412.8 L1389.0,411.8 L1391.9,410.8 L1394.7,409.7 L1397.6,408.7 L1400.5,407.7 L1403.4,406.6 L1406.2,405.6 L1409.1,404.6 L1412.0,403.6 L1414.9,402.6 L1417.7,401.6 L1420.6,400.6 L1423.5,399.6 L1426.4,398.6 L1429.3,397.7 L1432.2,396.7 L1435.0,395.7 L1437.9,394.7 L1440.8,393.8 L1443.7,392.8 L1446.6,391.9 L1449.5,390.9 L1452.4,389.9 L1455.3,389.0 L1458.2,388.1 L1461.1,387.1 L1464.0,386.2 L1466.9,385.2 L1469.7,384.3 L1472.6,383.4 L1475.5,382.4 L1478.4,381.5 L1481.3,380.6 L1484.2,379.7 L1487.1,378.7 L1490.0,377.8 L1492.9,376.9 L1495.8,376.0 L1498.6,375.1 L1501.5,374.1 L1504.4,373.2 L1507.3,372.3 L1510.2,371.4 L1513.1,370.5 L1515.9,369.6 L1518.8,368.7 L1521.7,367.8 L1524.6,366.9 L1527.4,366.0 L1530.3,365.0 L1533.2,364.1 L1536.0,363.2 L1538.9,362.3 L1541.7,361.4 L1544.6,360.5 L1547.4,359.6 L1550.3,358.7 L1553.1,357.8 L1556.0,356.8 L1558.8,355.9 L1561.6,355.0 L1564.5,354.1 L1567.3,353.2 L1570.1,352.3 L1572.9,351.3 L1575.7,350.4 L1578.6,349.5 L1581.4,348.6 L1584.2,347.6 L1587.0,346.7 L1589.7,345.8 L1592.5,344.8 L1595.3,343.9 L1598.1,343.0 L1600.9,342.0 L1603.6,341.1 L1606.4,340.1 L1609.2,339.2 L1611.9,338.2 L1614.7,337.3 L1617.4,336.3 L1617.2,339.3 L1617.0,342.2 L1616.7,345.2 L1616.5,348.2 L1616.3,351.1 L1616.0,354.1 L1615.8,357.1 L1615.5,360.1 L1615.3,363.0 L1615.1,366.0 L1614.8,369.0 L1614.6,371.9 L1614.3,374.9 L1614.0,377.9 L1613.8,380.9 L1613.5,383.8 L1613.2,386.8 L1613.0,389.8 L1612.7,392.7 L1612.4,395.7 L1612.2,398.7 L1611.9,401.7 L1611.6,404.6 L1611.3,407.6 L1611.0,410.6 L1610.7,413.6 L1610.4,416.5 L1610.1,419.5 L1609.8,422.5 L1609.5,425.5 L1609.2,428.5 L1608.9,431.4 L1608.6,434.4 L1608.3,437.4 L1608.0,440.4 L1607.7,443.3 L1607.4,446.3 L1607.0,449.3 L1606.7,452.3 L1606.4,455.3 L1606.1,458.2 L1605.7,461.2 L1605.4,464.2 L1605.1,467.2 L1604.7,470.2 L1604.4,473.1 L1604.1,476.1 L1603.7,479.1 L1603.4,482.1 L1603.0,485.1 L1602.7,488.0 L1602.3,491.0 L1602.0,494.0 L1601.6,497.0 L1601.3,500.0 L1600.9,503.0 L1600.5,505.9 L1600.2,508.9 L1599.8,511.9 L1599.4,514.9 L1599.1,517.9 L1598.7,520.9 L1598.3,523.8 L1598.0,526.8 L1597.6,529.8 L1597.2,532.8 L1596.8,535.8 L1596.4,538.8 L1596.1,541.7 L1595.7,544.7 L1595.3,547.7 L1594.9,550.7 L1594.5,553.7 L1594.1,556.7 L1593.7,559.7 L1593.3,562.6 L1592.9,565.6 L1592.5,568.6 L1592.1,571.6 L1591.7,574.6 L1591.3,577.6 L1590.9,580.6 L1590.5,583.5 L1590.1,586.5 L1589.7,589.5 L1589.3,592.5 L1588.9,595.5 L1588.4,598.5 L1588.0,601.5 L1587.6,604.5 L1587.2,607.4 L1586.8,610.4 L1586.4,613.4 L1585.9,616.4 L1585.5,619.4 L1585.1,622.4 L1584.7,625.4 L1584.2,628.4 L1583.8,631.3 L1583.4,634.3 L1582.9,637.3 L1582.5,640.3 L1582.1,643.3 L1581.6,646.3 L1581.2,649.3 L1580.8,652.3 L1580.3,655.2 L1579.9,658.2 L1579.4,661.2 L1579.0,664.2 L1578.6,667.2 L1578.1,670.2 L1577.7,673.2 L1577.2,676.2 L1576.8,679.2 L1576.3,682.1 L1575.9,685.1 L1575.4,688.1 L1575.0,691.1 L1574.5,694.1 L1574.1,697.1 L1573.6,700.1 L1573.2,703.1 L1572.7,706.1 L1572.3,709.0 L1571.8,712.0 L1571.4,715.0 L1570.9,718.0 L1570.5,721.0 L1570.0,724.0 L1569.5,727.0 L1569.1,730.0 L1568.6,733.0 L1568.2,735.9 L1567.7,738.9 L1567.2,741.9 L1566.8,744.9 L1566.3,747.9 L1565.8,750.9 L1565.4,753.9 L1564.9,756.9 L1564.5,759.9 L1564.0,762.8 L1563.5,765.8 L1563.1,768.8 L1562.6,771.8 L1562.1,774.8 L1561.7,777.8 L1561.2,780.8 L1560.7,783.8 L1560.3,786.8 L1559.8,789.7 L1559.3,792.7 L1558.9,795.7 L1558.4,798.7 L1557.9,801.7 L1557.5,804.7 L1557.0,807.7 L1556.5,810.7 L1556.0,813.6 L1555.6,816.6 L1555.1,819.6 L1554.6,822.6 L1554.2,825.6 L1553.7,828.6 L1553.2,831.6 L1552.8,834.6 L1552.3,837.5 L1551.8,840.5 L1551.3,843.5 L1550.9,846.5 L1550.4,849.5 L1549.9,852.5 L1549.5,855.5 L1549.0,858.4 L1548.5,861.4 L1548.1,864.4 L1547.6,867.4 L1547.1,870.4 L1546.7,873.4 L1546.2,876.4 L1545.7,879.3 L1545.3,882.3 L1544.8,885.3 L1544.3,888.3 L1543.9,891.3 L1543.4,894.3 L1542.9,897.2 L1542.5,900.2 L1542.0,903.2 L1541.5,906.2 L1541.1,909.2 L1540.6,912.2 L1540.1,915.1 L1539.7,918.1 L1539.2,921.1 L1538.8,924.1 L1538.3,927.1 L1537.8,930.1 L1537.4,933.0 L1536.9,936.0 L1536.5,939.0 L1536.0,942.0 L1535.6,945.0 L1535.1,947.9 L1534.6,950.9 L1534.2,953.9 L1533.7,956.9 L1533.3,959.9 L1532.8,962.8 L1532.4,965.8 L1531.9,968.8 L1531.5,971.8 L1531.0,974.7 L1530.6,977.7 L1530.1,980.7 L1529.7,983.7 L1529.3,986.7 L1528.8,989.6 L1528.4,992.6 L1527.9,995.6 L1527.5,998.6 L1527.0,1001.5 L1526.6,1004.5 L1526.2,1007.5 L1525.7,1010.5 L1525.3,1013.4 L1524.9,1016.4 L1524.4,1019.4 L1524.0,1022.4 L1523.6,1025.3 L1523.1,1028.3 L1522.7,1031.3 L1522.3,1034.3 L1521.9,1037.2 L1521.4,1040.2 L1521.0,1043.2 L1520.6,1046.1 L1520.2,1049.1 L1519.7,1052.1 L1519.3,1055.1 L1518.9,1058.0 L1518.5,1061.0 L1518.0,1064.0 L1517.6,1066.9 L1517.2,1069.9 L1516.8,1072.9 L1516.4,1075.8 L1516.0,1078.8 L1515.5,1081.8 L1515.1,1084.8 L1514.7,1087.7 L1514.3,1090.7 L1513.9,1093.7 L1513.4,1096.6 L1513.0,1099.6 L1512.6,1102.6 L1512.2,1105.5 L1511.8,1108.5 L1511.4,1111.4 L1510.9,1114.4 L1510.5,1117.4 L1510.1,1120.3 L1509.7,1123.3 L1509.3,1126.3 L1508.9,1129.2 L1508.4,1132.2 L1508.0,1135.1 L1507.6,1138.1 L1507.2,1141.1 L1506.7,1144.0 L1506.3,1147.0 L1505.9,1149.9 L1505.5,1152.9 L1505.1,1155.9 L1504.6,1158.8 L1504.2,1161.8 L1503.8,1164.7 L1503.3,1167.7 L1502.9,1170.7 L1502.5,1173.6 L1502.0,1176.6 L1501.6,1179.5 L1501.2,1182.5 L1500.7,1185.4 L1500.3,1188.4 L1499.9,1191.3 L1499.4,1194.3 L1499.0,1197.2 L1498.5,1200.2 L1498.1,1203.1 L1497.6,1206.1 L1497.2,1209.0 L1496.7,1212.0 L1496.3,1214.9 L1495.8,1217.9 L1495.4,1220.8 L1494.9,1223.8 L1494.5,1226.7 L1494.0,1229.7 L1493.5,1232.6 L1493.1,1235.6 L1492.6,1238.5 L1492.1,1241.5 L1491.7,1244.4 L1491.2,1247.4 L1490.7,1250.3 L1490.2,1253.2 L1489.8,1256.2 L1489.3,1259.1 L1488.8,1262.1 L1488.3,1265.0 L1487.8,1268.0 L1487.3,1270.9 L1486.8,1273.8 L1486.3,1276.8 L1485.8,1279.7 L1485.3,1282.7 L1484.8,1285.6 L1484.3,1288.5 L1483.8,1291.5 L1483.2,1294.4 L1482.7,1297.3 L1482.2,1300.3 L1481.7,1303.2 L1481.1,1306.1 L1480.6,1309.1 L1480.1,1312.0 L1479.5,1314.9 L1479.0,1317.9 L1478.5,1320.8 L1477.9,1323.7 L1477.3,1326.7 L1476.8,1329.6 L1476.2,1332.5 L1475.7,1335.5 L1475.1,1338.4 L1474.5,1341.3 L1474.0,1344.2 L1473.4,1347.2 L1472.8,1350.1 L1472.2,1353.0 L1471.6,1355.9 L1471.0,1358.9 L1470.4,1361.8 L1469.8,1364.7 L1469.2,1367.6 L1468.6,1370.6 L1468.0,1373.5 L1467.4,1376.4 L1466.7,1379.3 L1466.1,1382.2 L1465.5,1385.2 L1464.8,1388.1 L1464.2,1391.0 L1463.5,1393.9 L1462.8,1396.8 L1462.2,1399.7 L1461.5,1402.7 L1460.8,1405.6 L1460.1,1408.5 L1459.4,1411.4 L1458.7,1414.3 L1458.0,1417.2 L1457.3,1420.1 L1456.6,1423.0 L1455.9,1425.9 L1455.1,1428.9 L1454.4,1431.8 L1453.7,1434.7 L1452.9,1437.6 L1452.1,1440.5 L1451.4,1443.4 L1450.6,1446.3 L1449.8,1449.2 L1449.0,1452.1 L1448.2,1455.0 L1447.4,1457.9 L1446.6,1460.8 L1445.7,1463.7 L1444.9,1466.6 L1444.0,1469.5 L1443.2,1472.4 L1442.3,1475.3 L1441.4,1478.2 L1440.6,1481.1 L1439.7,1484.0 L1438.8,1486.9 L1437.8,1489.8 L1436.9,1492.7 L1436.0,1495.6 L1435.0,1498.5 L1434.1,1501.4 L1433.1,1504.2 L1432.2,1507.1 L1431.2,1510.0 L1430.2,1512.9 L1429.2,1515.8 L1428.1,1518.7 L1427.1,1521.6 L1426.1,1524.5 L1425.0,1527.4 L1424.0,1530.2 L1422.9,1533.1 L1421.8,1536.0"/>
<path stroke="#800000" d="M276.5,1530.0 L276.8,1527.0 L277.2,1523.9 L277.6,1520.9 L278.0,1517.9 L278.5,1514.9 L279.0,1512.0 L279.5,1509.0 L280.1,1506.0 L280.8,1503.1 L281.5,1500.2 L282.2,1497.3 L282.9,1494.4 L283.7,1491.5 L284.5,1488.6 L285.4,1485.8 L286.3,1482.9 L287.3,1480.1 L288.2,1477.3 L289.2,1474.5 L290.3,1471.7 L291.4,1468.9 L292.5,1466.1 L293.6,1463.4 L294.8,1460.7 L296.0,1457.9 L297.3,1455.2 L298.6,1452.6 L299.9,1449.9 L301.2,1447.2 L302.6,1444.6 L304.0,1442.0 L305.5,1439.4 L306.9,1436.8 L308.4,1434.2 L310.0,1431.6 L311.5,1429.1 L313.1,1426.5 L314.7,1424.0 L316.3,1421.5 L318.0,1419.0 L319.7,1416.6 L321.4,1414.1 L323.2,1411.7 L324.9,1409.3 L326.7,1406.9 L328.5,1404.5 L330.4,1402.1 L332.3,1399.8 L334.1,1397.4 L336.1,1395.1 L338.0,1392.8 L340.0,1390.5 L341.9,1388.3 L343.9,1386.0 L346.0,1383.8 L348.0,1381.6 L350.1,1379.4 L352.2,1377.2 L354.3,1375.1 L356.4,1372.9 L358.6,1370.8 L360.7,1368.7 L362.9,1366.6 L365.1,1364.6 L367.3,1362.6 L369.6,1360.6 L371.8,1358.6 L374.1,1356.6 L376.4,1354.7 L378.7,1352.8 L381.0,1350.9 L383.3,1349.1 L385.7,1347.2 L388.1,1345.4 L390.4,1343.7 L392.8,1341.9 L395.2,1340.2 L397.6,1338.5 L400.1,1336.8 L402.5,1335.1 L405.0,1333.5 L407.4,1331.8 L409.9,1330.2 L412.4,1328.6 L414.9,1327.0 L417.4,1325.4 L419.9,1323.8 L422.4,1322.2 L424.9,1320.6 L427.5,1319.1 L430.0,1317.5 L432.6,1315.9 L435.1,1314.3 L437.7,1312.7 L440.3,1311.2 L442.8,1309.6 L445.4,1308.0 L448.0,1306.5 L450.6,1304.9 L453.2,1303.4 L455.8,1301.8 L458.4,1300.3 L461.0,1298.8 L463.6,1297.3 L466.2,1295.8 L468.8,1294.2 L471.4,1292.7 L474.1,1291.2 L476.7,1289.8 L479.3,1288.3 L481.9,1286.8 L484.6,1285.3 L487.2,1283.9 L489.8,1282.4 L492.4,1280.9 L495.1,1279.5 L497.7,1278.0 L500.3,1276.6 L503.0,1275.1 L505.6,1273.7 L508.3,1272.3 L510.9,1270.8 L513.5,1269.4 L516.2,1268.0 L518.8,1266.5 L521.5,1265.1 L524.1,1263.7 L526.8,1262.3 L529.4,1260.9 L532.1,1259.5 L534.7,1258.0 L537.4,1256.6 L540.0,1255.2 L542.6,1253.8 L545.3,1252.4 L547.9,1251.0 L550.6,1249.6 L553.2,1248.2 L555.9,1246.7 L558.5,1245.3 L561.2,1243.9 L563.8,1242.5 L566.4,1241.1 L569.1,1239.7 L571.7,1238.3 L574.4,1236.8 L577.0,1235.4 L579.6,1234.0 L582.3,1232.6 L584.9,1231.1 L587.5,1229.7 L590.1,1228.3 L592.8,1226.8 L595.4,1225.4 L598.0,1223.9 L600.6,1222.5 L603.3,1221.0 L605.9,1219.6 L608.5,1218.1 L611.1,1216.6 L613.7,1215.2 L616.3,1213.7 L618.9,1212.2 L621.5,1210.7 L624.1,1209.2 L626.7,1207.7 L629.3,1206.2 L631.9,1204.7 L634.5,1203.2 L637.0,1201.6 L639.6,1200.1 L642.2,1198.6 L644.8,1197.0 L647.3,1195.5 L649.9,1193.9 L652.4,1192.3 L655.0,1190.7 L657.5,1189.1 L660.1,1187.5 L662.6,1185.9 L665.1,1184.3 L667.7,1182.7 L670.2,1181.1 L672.7,1179.4 L675.2,1177.8 L677.7,1176.1 L680.3,1174.4 L682.8,1172.8 L685.2,1171.1 L687.7,1169.4 L690.2,1167.7 L692.7,1166.0 L695.2,1164.2 L697.6,1162.5 L700.1,1160.8 L702.6,1159.0 L705.0,1157.3 L707.4,1155.5 L709.9,1153.7 L712.3,1152.0 L714.7,1150.2 L717.2,1148.4 L719.6,1146.6 L722.0,1144.8 L724.4,1142.9 L726.8,1141.1 L729.1,1139.3 L731.5,1137.4 L733.9,1135.6 L736.2,1133.7 L738.6,1131.8 L740.9,1129.9 L743.3,1128.0 L745.6,1126.1 L747.9,1124.2 L750.2,1122.3 L752.6,1120.4 L754.9,1118.5 L757.1,1116.5 L759.4,1114.6 L761.7,1112.6 L764.0,1110.6 L766.2,1108.7 L768.5,1106.7 L770.7,1104.7 L772.9,1102.7 L775.2,1100.7 L777.4,1098.6 L779.6,1096.6 L781.8,1094.6 L784.0,1092.5 L786.1,1090.5 L788.3,1088.4 L790.5,1086.3 L792.6,1084.3 L794.8,1082.2 L796.9,1080.1 L799.0,1078.0 L801.1,1075.9 L803.2,1073.7 L805.3,1071.6 L807.4,1069.5 L809.5,1067.3 L811.5,1065.2 L813.6,1063.0 L815.6,1060.8 L817.7,1058.7 L819.7,1056.5 L821.7,1054.3 L823.7,1052.1 L825.7,1049.9 L827.7,1047.7 L829.7,1045.5 L831.7,1043.2 L833.7,1041.0 L835.6,1038.8 L837.6,1036.5 L839.5,1034.3 L841.5,1032.0 L843.4,1029.7 L845.3,1027.4 L847.3,1025.2 L849.2,1022.9 L851.1,1020.6 L853.0,1018.3 L854.9,1016.0 L856.8,1013.7 L858.6,1011.4 L860.5,1009.0 L862.4,1006.7 L864.2,1004.4 L866.1,1002.0 L867.9,999.7 L869.8,997.3 L871.6,995.0 L873.4,992.6 L875.3,990.2 L877.1,987.9 L878.9,985.5 L880.7,983.1 L882.5,980.7 L884.3,978.3 L886.1,975.9 L887.9,973.5 L889.6,971.1 L891.4,968.7 L893.2,966.3 L895.0,963.9 L896.7,961.5 L898.5,959.0 L900.2,956.6 L902.0,954.2 L903.7,951.7 L905.4,949.3 L907.2,946.8 L908.9,944.4 L910.6,941.9 L912.4,939.5 L914.1,937.0 L915.8,934.5 L917.5,932.1 L919.2,929.6 L920.9,927.1 L922.6,924.7 L924.3,922.2 L926.0,919.7 L927.7,917.2 L929.4,914.7 L931.1,912.2 L932.7,909.7 L934.4,907.2 L936.1,904.7 L937.8,902.2 L939.4,899.7 L941.1,897.2 L942.8,894.7 L944.4,892.2 L946.1,889.7 L947.8,887.2 L949.4,884.7 L951.1,882.1 L952.7,879.6 L954.4,877.1 L956.0,874.6 L957.7,872.0 L959.3,869.5 L961.0,867.0 L962.6,864.5 L964.3,861.9 L965.9,859.4 L967.6,856.9 L969.2,854.3 L970.9,851.8 L972.5,849.3 L974.1,846.7 L975.8,844.2 L977.4,841.7 L979.1,839.1 L980.7,836.6 L982.4,834.1 L984.0,831.5 L985.6,829.0 L987.3,826.4 L988.9,823.9 L990.6,821.4 L992.2,818.8 L993.8,816.3 L995.5,813.8 L997.1,811.2 L998.8,808.7 L1000.4,806.2 L1002.1,803.6 L1003.7,801.1 L1005.4,798.6 L1007.0,796.0 L1008.7,793.5 L1010.3,791.0 L1012.0,788.4 L1013.6,785.9 L1015.3,783.4 L1017.0,780.9 L1018.6,778.3 L1020.3,775.8 L1022.0,773.3 L1023.6,770.8 L1025.3,768.3 L1027.0,765.8 L1028.7,763.3 L1030.3,760.7 L1032.0,758.2 L1033.7,755.7 L1035.4,753.2 L1037.1,750.7 L1038.8,748.2 L1040.5,745.7 L1042.2,743.2 L1043.9,740.8 L1045.6,738.3 L1047.3,735.8 L1049.0,733.3 L1050.7,730.8 L1052.5,728.3 L1054.2,725.9 L1055.9,723.4 L1057.7,720.9 L1059.4,718.5 L1061.1,716.0 L1062.9,713.6 L1064.6,711.1 L1066.4,708.7 L1068.1,706.2 L1069.9,703.8 L1071.7,701.3 L1073.4,698.9 L1075.2,696.5 L1077.0,694.1 L1078.8,691.6 L1080.6,689.2 L1082.4,686.8 L1084.2,684.4 L1086.0,682.0 L1087.8,679.6 L1089.6,677.2 L1091.4,674.8 L1093.2,672.4 L1095.1,670.1 L1096.9,667.7 L1098.7,665.3 L1100.6,663.0 L1102.4,660.6 L1104.3,658.2 L1106.2,655.9 L1108.0,653.6 L1109.9,651.2 L1111.8,648.9 L1113.6,646.6 L1115.5,644.3 L1117.4,641.9 L1119.3,639.6 L1121.2,637.3 L1123.1,635.0 L1125.1,632.8 L1127.0,630.5 L1128.9,628.2 L1130.8,625.9 L1132.8,623.7 L1134.7,621.4 L1136.7,619.2 L1138.6,616.9 L1140.6,614.7 L1142.6,612.5 L1144.5,610.2 L1146.5,608.0 L1148.5,605.8 L1150.5,603.6 L1152.5,601.4 L1154.5,599.2 L1156.6,597.1 L1158.6,594.9 L1160.6,592.7 L1162.6,590.6 L1164.7,588.4 L1166.7,586.3 L1168.8,584.2 L1170.9,582.0 L1172.9,579.9 L1175.0,577.8 L1177.1,575.7 L1179.2,573.6 L1181.3,571.5 L1183.4,569.5 L1185.5,567.4 L1187.6,565.3 L1189.8,563.3 L1191.9,561.3 L1194.0,559.2 L1196.2,557.2 L1198.4,555.2 L1200.5,553.2 L1202.7,551.2 L1204.9,549.2 L1207.1,547.3 L1209.3,545.3 L1211.5,543.3 L1213.7,541.4 L1215.9,539.5 L1218.2,537.5 L1220.4,535.6 L1222.7,533.7 L1224.9,531.8 L1227.2,529.9 L1229.4,528.0 L1231.7,526.2 L1234.0,524.3 L1236.3,522.5 L1238.6,520.6 L1240.9,518.8 L1243.3,517.0 L1245.6,515.2 L1247.9,513.4 L1250.3,511.6 L1252.7,509.9 L1255.0,508.1 L1257.4,506.4 L1259.8,504.6 L1262.2,502.9 L1264.6,501.2 L1267.0,499.5 L1269.4,497.8 L1271.9,496.1 L1274.3,494.4 L1276.8,492.8 L1279.2,491.1 L1281.7,489.5 L1284.2,487.9 L1286.7,486.3 L1289.2,484.7 L1291.7,483.1 L1294.2,481.5 L1296.7,480.0 L1299.3,478.4 L1301.8,476.9 L1304.4,475.3 L1306.9,473.8 L1309.5,472.3 L1312.1,470.8 L1314.7,469.3 L1317.2,467.8 L1319.8,466.4 L1322.5,464.9 L1325.1,463.5 L1327.7,462.0 L1330.3,460.6 L1333.0,459.2 L1335.6,457.8 L1338.3,456.4 L1340.9,455.0 L1343.6,453.6 L1346.3,452.2 L1348.9,450.9 L1351.6,449.5 L1354.3,448.2 L1357.0,446.8 L1359.7,445.5 L1362.4,444.2 L1365.1,442.9 L1367.9,441.6 L1370.6,440.3 L1373.3,439.0 L1376.1,437.7 L1378.8,436.5 L1381.6,435.2 L1384.3,433.9 L1387.1,432.7 L1389.9,431.5 L1392.6,430.2 L1395.4,429.0 L1398.2,427.8 L1401.0,426.6 L1403.8,425.4 L1406.6,424.2 L1409.4,423.0 L1412.2,421.8 L1415.0,420.6 L1417.8,419.5 L1420.6,418.3 L1423.4,417.1 L1426.2,416.0 L1429.1,414.8 L1431.9,413.7 L1434.7,412.6 L1437.6,411.4 L1440.4,410.3 L1443.3,409.2 L1446.1,408.1 L1448.9,407.0 L1451.8,405.9 L1454.7,404.8 L1457.5,403.7 L1460.4,402.6 L1463.2,401.5 L1466.1,400.5 L1469.0,399.4 L1471.8,398.3 L1474.7,397.3 L1477.6,396.2 L1480.5,395.2 L1483.3,394.1 L1486.2,393.1 L1489.1,392.0 L1492.0,391.0 L1494.8,390.0 L1497.7,388.9 L1500.6,387.9 L1503.5,386.9 L1506.4,385.9 L1509.3,384.9 L1512.2,383.9 L1515.0,382.8 L1517.9,381.8 L1520.8,380.8 L1523.7,379.8 L1526.6,378.8 L1529.5,377.8 L1532.4,376.8 L1535.3,375.9 L1538.1,374.9 L1541.0,373.9 L1543.9,372.9 L1546.8,371.9 L1549.7,370.9 L1552.6,370.0 L1555.4,369.0 L1558.3,368.0 L1561.2,367.0 L1564.1,366.1 L1567.0,365.1 L1569.8,364.1 L1572.7,363.1 L1575.6,362.2 L1578.5,361.2 L1581.3,360.2 L1584.2,359.3 L1587.1,358.3 L1589.9,357.3 L1592.8,356.4 L1595.6,355.4 L1598.5,354.4 L1601.3,353.5 L1604.2,352.5 L1607.0,351.5 L1609.9,350.6 L1612.7,349.6 L1615.6,348.6 L1618.4,347.7 L1621.2,346.7 L1624.1,345.7 L1626.9,344.8 L1629.7,343.8 L1632.5,342.8 L1635.4,341.9 L1638.2,340.9 L1641.0,339.9 L1643.8,339.0 L1646.6,338.0 L1649.4,337.0 L1652.3,336.1 L1655.1,335.1 L1657.9,334.1 L1660.7,333.2 L1663.5,332.2 L1666.3,331.2 L1669.1,330.3 L1671.9,329.3 L1674.7,328.3 L1677.5,327.4 L1680.3,326.4 L1683.1,325.4 L1685.9,324.5 L1688.7,323.5 L1691.5,322.5 L1694.3,321.6 L1697.1,320.6 L1699.9,319.6 L1702.7,318.7 L1705.5,317.7 L1708.3,316.7 L1711.1,315.8 L1713.9,314.8 L1716.7,313.8 L1719.5,312.9 L1722.3,311.9 L1725.1,310.9 L1727.9,310.0 L1730.8,309.0 L1733.6,308.0 L1736.4,307.1 L1739.2,306.1 L1742.0,305.2 L1744.8,304.2 L1747.6,303.2 L1750.4,302.3 L1753.2,301.3 L1756.1,300.4 L1758.9,299.4 L1761.7,298.4 L1764.5,297.5 L1767.3,296.5 L1770.2,295.6 L1773.0,294.6 L1775.8,293.7 L1778.7,292.7 L1781.5,291.8 L1784.3,290.8 L1787.2,289.9 L1790.0,288.9 L1792.9,288.0 L1795.7,287.0 L1798.6,286.1 L1801.4,285.1 L1804.3,284.2 L1807.2,283.2 L1810.0,282.3 L1812.9,281.3 L1815.8,280.4 L1818.6,279.4 L1821.5,278.5 L1824.4,277.5 L1827.3,276.6 L1830.2,275.7 L1833.1,274.7 L1836.0,273.8 L1838.9,272.8 L1841.8,271.9 L1841.5,274.9 L1841.2,277.8 L1840.9,280.8 L1840.6,283.8 L1840.3,286.7 L1840.0,289.7 L1839.7,292.7 L1839.4,295.6 L1839.1,298.6 L1838.8,301.6 L1838.5,304.5 L1838.2,307.5 L1837.9,310.5 L1837.5,313.5 L1837.2,316.4 L1836.9,319.4 L1836.6,322.4 L1836.2,325.3 L1835.9,328.3 L1835.6,331.3 L1835.3,334.2 L1834.9,337.2 L1834.6,340.2 L1834.3,343.2 L1833.9,346.1 L1833.6,349.1 L1833.2,352.1 L1832.9,355.0 L1832.5,358.0 L1832.2,361.0 L1831.8,364.0 L1831.5,366.9 L1831.1,369.9 L1830.8,372.9 L1830.4,375.8 L1830.1,378.8 L1829.7,381.8 L1829.4,384.8 L1829.0,387.7 L1828.6,390.7 L1828.3,393.7 L1827.9,396.6 L1827.5,399.6 L1827.2,402.6 L1826.8,405.6 L1826.4,408.5 L1826.0,411.5 L1825.7,414.5 L1825.3,417.5 L1824.9,420.4 L1824.5,423.4 L1824.2,426.4 L1823.8,429.3 L1823.4,432.3 L1823.0,435.3 L1822.6,438.3 L1822.2,441.2 L1821.8,444.2 L1821.4,447.2 L1821.0,450.2 L1820.6,453.1 L1820.3,456.1 L1819.9,459.1 L1819.5,462.1 L1819.1,465.0 L1818.7,468.0 L1818.3,471.0 L1817.9,474.0 L1817.4,476.9 L1817.0,479.9 L1816.6,482.9 L1816.2,485.9 L1815.8,488.8 L1815.4,491.8 L1815.0,494.8 L1814.6,497.8 L1814.2,500.7 L1813.7,503.7 L1813.3,506.7 L1812.9,509.7 L1812.5,512.6 L1812.1,515.6 L1811.7,518.6 L1811.2,521.6 L1810.8,524.5 L1810.4,527.5 L1810.0,530.5 L1809.5,533.5 L1809.1,536.4 L1808.7,539.4 L1808.2,542.4 L1807.8,545.4 L1807.4,548.3 L1807.0,551.3 L1806.5,554.3 L1806.1,557.3 L1805.7,560.2 L1805.2,563.2 L1804.8,566.2 L1804.3,569.2 L1803.9,572.1 L1803.5,575.1 L1803.0,578.1 L1802.6,581.1 L1802.1,584.0 L1801.7,587.0 L1801.3,590.0 L1800.8,593.0 L1800.4,595.9 L1799.9,598.9 L1799.5,601.9 L1799.0,604.9 L1798.6,607.8 L1798.1,610.8 L1797.7,613.8 L1797.2,616.8 L1796.8,619.7 L1796.3,622.7 L1795.9,625.7 L1795.4,628.7 L1795.0,631.6 L1794.5,634.6 L1794.1,637.6 L1793.6,640.6 L1793.2,643.5 L1792.7,646.5 L1792.3,649.5 L1791.8,652.5 L1791.4,655.4 L1790.9,658.4 L1790.4,661.4 L1790.0,664.4 L1789.5,667.3 L1789.1,670.3 L1788.6,673.3 L1788.2,676.3 L1787.7,679.2 L1787.2,682.2 L1786.8,685.2 L1786.3,688.2 L1785.9,691.1 L1785.4,694.1 L1784.9,697.1 L1784.5,700.1 L1784.0,703.0 L1783.5,706.0 L1783.1,709.0 L1782.6,712.0 L1782.2,714.9 L1781.7,717.9 L1781.2,720.9 L1780.8,723.8 L1780.3,726.8 L1779.8,729.8 L1779.4,732.8 L1778.9,735.7 L1778.4,738.7 L1778.0,741.7 L1777.5,744.7 L1777.1,747.6 L1776.6,750.6 L1776.1,753.6 L1775.7,756.5 L1775.2,759.5 L1774.7,762.5 L1774.3,765.5 L1773.8,768.4 L1773.3,771.4 L1772.9,774.4 L1772.4,777.4 L1771.9,780.3 L1771.5,783.3 L1771.0,786.3 L1770.5,789.2 L1770.1,792.2 L1769.6,795.2 L1769.2,798.2 L1768.7,801.1 L1768.2,804.1 L1767.8,807.1 L1767.3,810.0 L1766.8,813.0 L1766.4,816.0 L1765.9,818.9 L1765.4,821.9 L1765.0,824.9 L1764.5,827.9 L1764.1,830.8 L1763.6,833.8 L1763.1,836.8 L1762.7,839.7 L1762.2,842.7 L1761.8,845.7 L1761.3,848.6 L1760.8,851.6 L1760.4,854.6 L1759.9,857.5 L1759.5,860.5 L1759.0,863.5 L1758.5,866.4 L1758.1,869.4 L1757.6,872.4 L1757.2,875.3 L1756.7,878.3 L1756.3,881.3 L1755.8,884.3 L1755.3,887.2 L1754.9,890.2 L1754.4,893.1 L1754.0,896.1 L1753.5,899.1 L1753.1,902.0 L1752.6,905.0 L1752.2,908.0 L1751.7,910.9 L1751.3,913.9 L1750.8,916.9 L1750.3,919.8 L1749.9,922.8 L1749.4,925.8 L1749.0,928.7 L1748.5,931.7 L1748.1,934.7 L1747.6,937.6 L1747.2,940.6 L1746.7,943.6 L1746.2,946.5 L1745.8,949.5 L1745.3,952.4 L1744.9,955.4 L1744.4,958.4 L1744.0,961.3 L1743.5,964.3 L1743.1,967.3 L1742.6,970.2 L1742.1,973.2 L1741.7,976.1 L1741.2,979.1 L1740.8,982.1 L1740.3,985.0 L1739.8,988.0 L1739.4,990.9 L1738.9,993.9 L1738.5,996.9 L1738.0,999.8 L1737.5,1002.8 L1737.1,1005.7 L1736.6,1008.7 L1736.2,1011.7 L1735.7,1014.6 L1735.2,1017.6 L1734.8,1020.5 L1734.3,1023.5 L1733.8,1026.4 L1733.4,1029.4 L1732.9,1032.4 L1732.4,1035.3 L1732.0,1038.3 L1731.5,1041.2 L1731.0,1044.2 L1730.5,1047.1 L1730.1,1050.1 L1729.6,1053.0 L1729.1,1056.0 L1728.6,1059.0 L1728.2,1061.9 L1727.7,1064.9 L1727.2,1067.8 L1726.7,1070.8 L1726.3,1073.7 L1725.8,1076.7 L1725.3,1079.6 L1724.8,1082.6 L1724.3,1085.5 L1723.8,1088.5 L1723.4,1091.4 L1722.9,1094.4 L1722.4,1097.3 L1721.9,1100.3 L1721.4,1103.2 L1720.9,1106.2 L1720.4,1109.1 L1719.9,1112.1 L1719.4,1115.0 L1718.9,1118.0 L1718.4,1120.9 L1717.9,1123.9 L1717.4,1126.8 L1716.9,1129.8 L1716.4,1132.7 L1715.9,1135.7 L1715.4,1138.6 L1714.9,1141.6 L1714.4,1144.5 L1713.9,1147.5 L1713.4,1150.4 L1712.9,1153.4 L1712.3,1156.3 L1711.8,1159.2 L1711.3,1162.2 L1710.8,1165.1 L1710.3,1168.1 L1709.7,1171.0 L1709.2,1174.0 L1708.7,1176.9 L1708.2,1179.9 L1707.6,1182.8 L1707.1,1185.7 L1706.6,1188.7 L1706.0,1191.6 L1705.5,1194.6 L1705.0,1197.5 L1704.4,1200.4 L1703.9,1203.4 L1703.3,1206.3 L1702.8,1209.3 L1702.2,1212.2 L1701.7,1215.1 L1701.1,1218.1 L1700.6,1221.0 L1700.0,1224.0 L1699.5,1226.9 L1698.9,1229.8 L1698.4,1232.8 L1697.8,1235.7 L1697.2,1238.6 L1696.7,1241.6 L1696.1,1244.5 L1695.5,1247.4 L1695.0,1250.4 L1694.4,1253.3 L1693.8,1256.2 L1693.2,1259.2 L1692.6,1262.1 L1692.1,1265.0 L1691.5,1268.0 L1690.9,1270.9 L1690.3,1273.8 L1689.7,1276.8 L1689.1,1279.7 L1688.5,1282.6 L1687.9,1285.6 L1687.3,1288.5 L1686.7,1291.4 L1686.1,1294.4 L1685.5,1297.3 L1684.9,1300.2 L1684.2,1303.1 L1683.6,1306.1 L1683.0,1309.0 L1682.4,1311.9 L1681.8,1314.9 L1681.1,1317.8 L1680.5,1320.7 L1679.9,1323.6 L1679.2,1326.6 L1678.6,1329.5 L1678.0,1332.4 L1677.3,1335.3 L1676.7,1338.2 L1676.0,1341.2 L1675.4,1344.1 L1674.7,1347.0 L1674.1,1349.9 L1673.4,1352.9 L1672.7,1355.8 L1672.1,1358.7 L1671.4,1361.6 L1670.7,1364.5 L1670.1,1367.5 L1669.4,1370.4 L1668.7,1373.3 L1668.0,1376.2 L1667.3,1379.1 L1666.7,1382.0 L1666.0,1385.0 L1665.3,1387.9 L1664.6,1390.8 L1663.9,1393.7 L1663.2,1396.6 L1662.5,1399.5 L1661.7,1402.5 L1661.0,1405.4 L1660.3,1408.3 L1659.6,1411.2 L1658.9,1414.1 L1658.1,1417.0 L1657.4,1419.9 L1656.7,1422.8 L1656.0,1425.8 L1655.2,1428.7 L1654.5,1431.6 L1653.7,1434.5 L1653.0,1437.4 L1652.2,1440.3 L1651.5,1443.2 L1650.7,1446.1 L1649.9,1449.0 L1649.2,1451.9 L1648.4,1454.8 L1647.6,1457.7 L1646.9,1460.6 L1646.1,1463.5 L1645.3,1466.4 L1644.5,1469.4 L1643.7,1472.3 L1642.9,1475.2 L1642.1,1478.1 L1641.3,1481.0 L1640.5,1483.9 L1639.7,1486.8 L1638.9,1489.7 L1638.1,1492.6 L1637.3,1495.5 L1636.5,1498.4 L1635.6,1501.3 L1634.8,1504.2 L1634.0,1507.1 L1633.1,1510.0 L1632.3,1512.8 L1631.4,1515.7 L1630.6,1518.6 L1629.7,1521.5 L1628.9,1524.4 L1628.0,1527.3 L1627.1,1530.2 L1626.3,1533.1 L1625.4,1536.0"/>
</g>
<g class="tk" text-anchor="end">
<text x="246.3" y="1548.9">0</text>
<text x="246.3" y="1252.2">100</text>
<text x="246.3" y="955.5">200</text>
<text x="246.3" y="658.7">300</text>
<text x="246.3" y="362.0">400</text>
<text x="246.3" y="65.3">500</text>
</g>
<g class="tk" text-anchor="middle">
<text x="277.3" y="1609.6">0</text>
<text x="500.9" y="1609.6">2</text>
<text x="724.5" y="1609.6">4</text>
<text x="948.1" y="1609.6">6</text>
<text x="1171.7" y="1609.6">8</text>
<text x="1395.4" y="1609.6">10</text>
<text x="1619.0" y="1609.6">12</text>
<text x="1842.6" y="1609.6">14</text>
<text x="2066.2" y="1609.6">16</text>
<text x="2289.8" y="1609.6">18</text>
</g>
<text class="ti" text-anchor="middle" x="1283.5" y="1729.5">Strain(%)</text>
<text class="ti" style="font-size:97.7px" text-anchor="middle" transform="translate(103.4,761.6) rotate(-90)">Stress(MPa)</text>
<g class="c" style="stroke-width:8">
<path stroke="#000000" d="M1920.3,100.9H2091.2"/>
<path stroke="#FF0000" d="M1920.3,194.0H2091.2"/>
<path stroke="#0000FF" d="M1920.3,287.1H2091.2"/>
<path stroke="#FF00FF" d="M1920.3,380.2H2091.2"/>
<path stroke="#008000" d="M1920.3,473.3H2091.2"/>
<path stroke="#000080" d="M1920.3,566.4H2091.2"/>
<path stroke="#8000FF" d="M1920.3,659.5H2091.2"/>
<path stroke="#800080" d="M1920.3,752.6H2091.2"/>
<path stroke="#800000" d="M1920.3,845.7H2091.2"/>
</g>
<g class="lg">
<text x="2109.3" y="126.9">2%</text>
<text x="2109.3" y="220.0">3%</text>
<text x="2109.3" y="313.1">4%</text>
<text x="2109.3" y="406.2">5%</text>
<text x="2109.3" y="499.3">6%</text>
<text x="2109.3" y="592.4">8%</text>
<text x="2109.3" y="685.5">10%</text>
<text x="2109.3" y="778.6">12%</text>
<text x="2109.3" y="871.7">14%</text>
</g>
</svg></body></html>
